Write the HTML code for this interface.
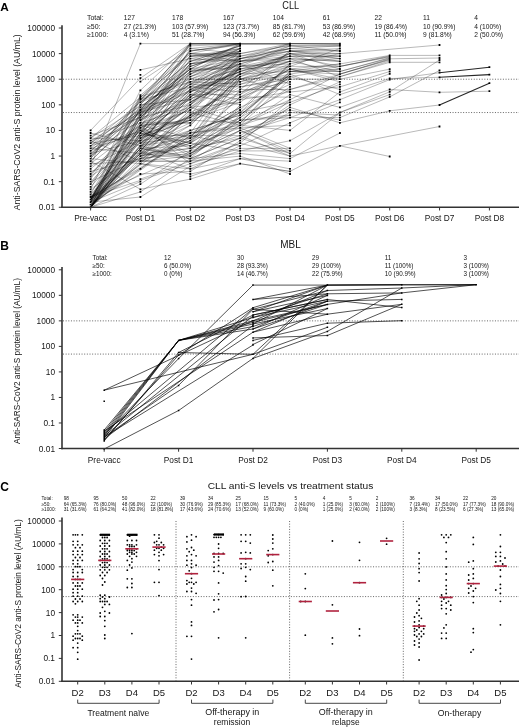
<!DOCTYPE html>
<html><head><meta charset="utf-8"><style>
html,body{margin:0;padding:0;background:#fff;width:520px;height:728px;overflow:hidden}
svg{display:block;font-family:"Liberation Sans", sans-serif;will-change:transform}
</style></head><body>
<svg width="520" height="728" viewBox="0 0 520 728">
<rect width="520" height="728" fill="#fff"/>
<text x="0.20" y="10.50" font-size="11.8" text-anchor="start" font-weight="bold" fill="#000">A</text>
<text x="290.75" y="8.50" font-size="10.2" text-anchor="middle" font-weight="normal" fill="#151515" textLength="16.9" lengthAdjust="spacingAndGlyphs">CLL</text>
<text x="86.90" y="20.20" font-size="7" text-anchor="start" font-weight="normal" fill="#151515">Total:</text>
<text x="86.90" y="28.60" font-size="7" text-anchor="start" font-weight="normal" fill="#151515">≥50:</text>
<text x="86.90" y="37.00" font-size="7" text-anchor="start" font-weight="normal" fill="#151515">≥1000:</text>
<text transform="translate(123.80,20.20) scale(0.95,1)" font-size="7" text-anchor="start" font-weight="normal" fill="#151515">127</text>
<text transform="translate(123.80,28.60) scale(0.95,1)" font-size="7" text-anchor="start" font-weight="normal" fill="#151515">27 (21.3%)</text>
<text transform="translate(123.80,37.00) scale(0.95,1)" font-size="7" text-anchor="start" font-weight="normal" fill="#151515">4 (3.1%)</text>
<text transform="translate(172.10,20.20) scale(0.95,1)" font-size="7" text-anchor="start" font-weight="normal" fill="#151515">178</text>
<text transform="translate(172.10,28.60) scale(0.95,1)" font-size="7" text-anchor="start" font-weight="normal" fill="#151515">103 (57.9%)</text>
<text transform="translate(172.10,37.00) scale(0.95,1)" font-size="7" text-anchor="start" font-weight="normal" fill="#151515">51 (28.7%)</text>
<text transform="translate(223.00,20.20) scale(0.95,1)" font-size="7" text-anchor="start" font-weight="normal" fill="#151515">167</text>
<text transform="translate(223.00,28.60) scale(0.95,1)" font-size="7" text-anchor="start" font-weight="normal" fill="#151515">123 (73.7%)</text>
<text transform="translate(223.00,37.00) scale(0.95,1)" font-size="7" text-anchor="start" font-weight="normal" fill="#151515">94 (56.3%)</text>
<text transform="translate(272.80,20.20) scale(0.95,1)" font-size="7" text-anchor="start" font-weight="normal" fill="#151515">104</text>
<text transform="translate(272.80,28.60) scale(0.95,1)" font-size="7" text-anchor="start" font-weight="normal" fill="#151515">85 (81.7%)</text>
<text transform="translate(272.80,37.00) scale(0.95,1)" font-size="7" text-anchor="start" font-weight="normal" fill="#151515">62 (59.6%)</text>
<text transform="translate(322.70,20.20) scale(0.95,1)" font-size="7" text-anchor="start" font-weight="normal" fill="#151515">61</text>
<text transform="translate(322.70,28.60) scale(0.95,1)" font-size="7" text-anchor="start" font-weight="normal" fill="#151515">53 (86.9%)</text>
<text transform="translate(322.70,37.00) scale(0.95,1)" font-size="7" text-anchor="start" font-weight="normal" fill="#151515">42 (68.9%)</text>
<text transform="translate(374.60,20.20) scale(0.95,1)" font-size="7" text-anchor="start" font-weight="normal" fill="#151515">22</text>
<text transform="translate(374.60,28.60) scale(0.95,1)" font-size="7" text-anchor="start" font-weight="normal" fill="#151515">19 (86.4%)</text>
<text transform="translate(374.60,37.00) scale(0.95,1)" font-size="7" text-anchor="start" font-weight="normal" fill="#151515">11 (50.0%)</text>
<text transform="translate(423.00,20.20) scale(0.95,1)" font-size="7" text-anchor="start" font-weight="normal" fill="#151515">11</text>
<text transform="translate(423.00,28.60) scale(0.95,1)" font-size="7" text-anchor="start" font-weight="normal" fill="#151515">10 (90.9%)</text>
<text transform="translate(423.00,37.00) scale(0.95,1)" font-size="7" text-anchor="start" font-weight="normal" fill="#151515">9 (81.8%)</text>
<text transform="translate(474.30,20.20) scale(0.95,1)" font-size="7" text-anchor="start" font-weight="normal" fill="#151515">4</text>
<text transform="translate(474.30,28.60) scale(0.95,1)" font-size="7" text-anchor="start" font-weight="normal" fill="#151515">4 (100%)</text>
<text transform="translate(474.30,37.00) scale(0.95,1)" font-size="7" text-anchor="start" font-weight="normal" fill="#151515">2 (50.0%)</text>
<text transform="translate(17.1,122.3) rotate(-90)" x="0" y="0" font-size="8.4" text-anchor="middle" fill="#151515" textLength="176" lengthAdjust="spacingAndGlyphs" dominant-baseline="central">Anti-SARS-CoV2 anti-S protein level (AU/mL)</text>
<line x1="63" y1="79.22" x2="519" y2="79.22" stroke="#555" stroke-width="0.9" stroke-dasharray="1 1.65"/>
<line x1="63" y1="112.54" x2="519" y2="112.54" stroke="#555" stroke-width="0.9" stroke-dasharray="1 1.65"/>
<path d="M140.4,69.9 L190.3,58.7" fill="none" stroke="#000" stroke-opacity="0.5" stroke-width="0.55"/>
<path d="M140.4,145.8 L190.3,138.1 L240.2,117.6 L290.0,89.5 L339.9,76.7 L389.7,61.0" fill="none" stroke="#000" stroke-opacity="0.5" stroke-width="0.55"/>
<path d="M140.4,122.8 L190.3,63.9 L240.2,58.7" fill="none" stroke="#000" stroke-opacity="0.5" stroke-width="0.55"/>
<path d="M140.4,143.2 L190.3,115.1 L240.2,94.6 L290.0,69.0 L339.9,81.8" fill="none" stroke="#000" stroke-opacity="0.5" stroke-width="0.55"/>
<path d="M90.6,202.1 L140.4,174.0 L190.3,171.4 L240.2,140.7 L290.0,107.4 L339.9,122.8 L389.7,110.8 L439.5,105.0" fill="none" stroke="#000" stroke-opacity="0.5" stroke-width="0.55"/>
<path d="M90.6,199.6 L140.4,115.1 L190.3,56.2 L240.2,53.6" fill="none" stroke="#000" stroke-opacity="0.5" stroke-width="0.55"/>
<path d="M90.6,207.3 L140.4,191.9 L190.3,158.6 L240.2,115.1 L290.0,74.1 L339.9,66.4 L389.7,55.9" fill="none" stroke="#000" stroke-opacity="0.5" stroke-width="0.55"/>
<path d="M90.6,199.6 L140.4,117.6 L190.3,66.4 L240.2,51.0" fill="none" stroke="#000" stroke-opacity="0.5" stroke-width="0.55"/>
<path d="M90.6,207.3 L140.4,138.1 L190.3,94.6 L240.2,71.5 L290.0,58.7 L339.9,61.3" fill="none" stroke="#000" stroke-opacity="0.5" stroke-width="0.55"/>
<path d="M90.6,130.4 L140.4,78.2 L190.3,43.6 L240.2,43.6" fill="none" stroke="#000" stroke-opacity="0.5" stroke-width="0.55"/>
<path d="M90.6,186.8 L140.4,133.0 L190.3,89.5 L240.2,66.4 L290.0,61.3 L339.9,71.5" fill="none" stroke="#000" stroke-opacity="0.5" stroke-width="0.55"/>
<path d="M140.4,156.1 L190.3,125.3 L240.2,76.7 L290.0,53.6 L339.9,58.7" fill="none" stroke="#000" stroke-opacity="0.5" stroke-width="0.55"/>
<path d="M90.6,199.6 L140.4,125.3 L190.3,120.2" fill="none" stroke="#000" stroke-opacity="0.5" stroke-width="0.55"/>
<path d="M90.6,204.7 L190.3,97.1 L240.2,58.7 L290.0,51.0 L339.9,51.0" fill="none" stroke="#000" stroke-opacity="0.5" stroke-width="0.55"/>
<path d="M90.6,207.3 L140.4,145.8 L190.3,122.8 L240.2,66.4 L290.0,63.9 L339.9,53.6" fill="none" stroke="#000" stroke-opacity="0.5" stroke-width="0.55"/>
<path d="M90.6,202.1 L140.4,133.0 L190.3,66.4 L240.2,51.0" fill="none" stroke="#000" stroke-opacity="0.5" stroke-width="0.55"/>
<path d="M140.4,130.4 L190.3,156.1 L240.2,120.2 L290.0,115.1" fill="none" stroke="#000" stroke-opacity="0.5" stroke-width="0.55"/>
<path d="M190.3,97.1 L240.2,51.0" fill="none" stroke="#000" stroke-opacity="0.5" stroke-width="0.55"/>
<path d="M140.4,145.8 L190.3,102.3 L240.2,61.3 L290.0,58.7" fill="none" stroke="#000" stroke-opacity="0.5" stroke-width="0.55"/>
<path d="M90.6,199.6 L190.3,130.4 L240.2,115.1 L290.0,74.1 L339.9,94.6 L389.7,78.5 L439.5,77.3" fill="none" stroke="#000" stroke-opacity="0.5" stroke-width="0.55"/>
<path d="M90.6,197.0 L190.3,163.7 L240.2,143.2 L290.0,99.7 L339.9,74.1 L389.7,58.8 L439.5,58.0" fill="none" stroke="#000" stroke-opacity="0.5" stroke-width="0.55"/>
<path d="M90.6,140.7 L140.4,122.8" fill="none" stroke="#000" stroke-opacity="0.5" stroke-width="0.55"/>
<path d="M90.6,171.4 L140.4,158.6 L190.3,140.7 L240.2,110.0 L290.0,63.9" fill="none" stroke="#000" stroke-opacity="0.5" stroke-width="0.55"/>
<path d="M140.4,102.3 L190.3,66.4 L240.2,48.5" fill="none" stroke="#000" stroke-opacity="0.5" stroke-width="0.55"/>
<path d="M190.3,150.9 L240.2,135.6 L290.0,107.4" fill="none" stroke="#000" stroke-opacity="0.5" stroke-width="0.55"/>
<path d="M90.6,138.1 L190.3,56.2 L240.2,48.5" fill="none" stroke="#000" stroke-opacity="0.5" stroke-width="0.55"/>
<path d="M90.6,199.6 L190.3,112.5 L240.2,89.5 L290.0,51.0 L339.9,53.6" fill="none" stroke="#000" stroke-opacity="0.5" stroke-width="0.55"/>
<path d="M140.4,158.6 L190.3,150.9 L240.2,107.4" fill="none" stroke="#000" stroke-opacity="0.5" stroke-width="0.55"/>
<path d="M90.6,150.9 L190.3,71.5 L240.2,61.3" fill="none" stroke="#000" stroke-opacity="0.5" stroke-width="0.55"/>
<path d="M90.6,207.3 L140.4,153.5 L190.3,110.0" fill="none" stroke="#000" stroke-opacity="0.5" stroke-width="0.55"/>
<path d="M90.6,202.1 L140.4,181.7" fill="none" stroke="#000" stroke-opacity="0.5" stroke-width="0.55"/>
<path d="M90.6,150.9 L140.4,130.4 L190.3,143.2 L240.2,79.2 L290.0,69.0 L339.9,79.2 L389.7,69.2" fill="none" stroke="#000" stroke-opacity="0.5" stroke-width="0.55"/>
<path d="M90.6,168.9 L140.4,127.9 L190.3,102.3 L240.2,76.7" fill="none" stroke="#000" stroke-opacity="0.5" stroke-width="0.55"/>
<path d="M90.6,197.0 L140.4,125.3 L190.3,138.1 L240.2,71.5" fill="none" stroke="#000" stroke-opacity="0.5" stroke-width="0.55"/>
<path d="M90.6,207.3 L140.4,138.1 L190.3,120.2 L240.2,102.3" fill="none" stroke="#000" stroke-opacity="0.5" stroke-width="0.55"/>
<path d="M90.6,150.9 L140.4,107.4" fill="none" stroke="#000" stroke-opacity="0.5" stroke-width="0.55"/>
<path d="M90.6,207.3 L140.4,163.7 L190.3,168.9 L240.2,158.6 L290.0,168.9" fill="none" stroke="#000" stroke-opacity="0.5" stroke-width="0.55"/>
<path d="M140.4,161.2 L190.3,140.7 L240.2,79.2 L290.0,92.0 L339.9,86.9 L389.7,71.5" fill="none" stroke="#000" stroke-opacity="0.5" stroke-width="0.55"/>
<path d="M90.6,184.2 L140.4,130.4 L190.3,153.5 L240.2,130.4 L290.0,115.1" fill="none" stroke="#000" stroke-opacity="0.5" stroke-width="0.55"/>
<path d="M140.4,140.7 L190.3,107.4 L240.2,69.0 L290.0,58.7 L339.9,61.3" fill="none" stroke="#000" stroke-opacity="0.5" stroke-width="0.55"/>
<path d="M90.6,202.1 L140.4,96.6 L190.3,81.8" fill="none" stroke="#000" stroke-opacity="0.5" stroke-width="0.55"/>
<path d="M190.3,145.8 L240.2,127.9 L290.0,125.3" fill="none" stroke="#000" stroke-opacity="0.5" stroke-width="0.55"/>
<path d="M90.6,197.0 L190.3,138.1 L240.2,76.7 L290.0,61.3" fill="none" stroke="#000" stroke-opacity="0.5" stroke-width="0.55"/>
<path d="M90.6,199.6 L140.4,153.5 L190.3,148.4 L240.2,117.6 L290.0,71.5 L339.9,69.0" fill="none" stroke="#000" stroke-opacity="0.5" stroke-width="0.55"/>
<path d="M90.6,158.6 L190.3,43.6 L240.2,43.6" fill="none" stroke="#000" stroke-opacity="0.5" stroke-width="0.55"/>
<path d="M90.6,191.9 L140.4,135.6 L190.3,97.1 L240.2,69.0" fill="none" stroke="#000" stroke-opacity="0.5" stroke-width="0.55"/>
<path d="M90.6,145.8 L190.3,86.9 L240.2,92.0 L290.0,81.8" fill="none" stroke="#000" stroke-opacity="0.5" stroke-width="0.55"/>
<path d="M190.3,86.9 L240.2,81.8 L290.0,63.9" fill="none" stroke="#000" stroke-opacity="0.5" stroke-width="0.55"/>
<path d="M90.6,207.3 L140.4,140.7 L190.3,92.0 L240.2,69.0 L290.0,66.4" fill="none" stroke="#000" stroke-opacity="0.5" stroke-width="0.55"/>
<path d="M90.6,166.3 L140.4,43.6 L190.3,43.6" fill="none" stroke="#000" stroke-opacity="0.5" stroke-width="0.55"/>
<path d="M90.6,166.3 L140.4,140.7" fill="none" stroke="#000" stroke-opacity="0.5" stroke-width="0.55"/>
<path d="M90.6,184.2 L140.4,115.1 L190.3,63.9 L240.2,53.6 L290.0,45.6 L339.9,51.0" fill="none" stroke="#000" stroke-opacity="0.5" stroke-width="0.55"/>
<path d="M90.6,207.3 L140.4,184.2 L190.3,150.9 L240.2,89.5 L290.0,89.5 L339.9,74.1 L389.7,59.4" fill="none" stroke="#000" stroke-opacity="0.5" stroke-width="0.55"/>
<path d="M140.4,130.4 L190.3,110.0 L240.2,63.9 L290.0,48.5 L339.9,45.9" fill="none" stroke="#000" stroke-opacity="0.5" stroke-width="0.55"/>
<path d="M190.3,104.8 L240.2,74.1" fill="none" stroke="#000" stroke-opacity="0.5" stroke-width="0.55"/>
<path d="M90.6,197.0 L190.3,153.5 L240.2,130.4 L290.0,150.9" fill="none" stroke="#000" stroke-opacity="0.5" stroke-width="0.55"/>
<path d="M90.6,207.3 L140.4,158.6 L190.3,133.0 L240.2,125.3 L290.0,102.3" fill="none" stroke="#000" stroke-opacity="0.5" stroke-width="0.55"/>
<path d="M90.6,156.1 L190.3,63.9 L240.2,56.2" fill="none" stroke="#000" stroke-opacity="0.5" stroke-width="0.55"/>
<path d="M190.3,112.5 L240.2,125.3 L290.0,79.2 L339.9,79.2" fill="none" stroke="#000" stroke-opacity="0.5" stroke-width="0.55"/>
<path d="M140.4,120.2 L190.3,89.5 L240.2,71.5 L290.0,53.6 L339.9,61.3" fill="none" stroke="#000" stroke-opacity="0.5" stroke-width="0.55"/>
<path d="M90.6,161.2 L190.3,61.3 L240.2,45.9" fill="none" stroke="#000" stroke-opacity="0.5" stroke-width="0.55"/>
<path d="M90.6,145.8 L140.4,104.8 L190.3,44.5 L240.2,43.6 L290.0,43.6 L339.9,44.6" fill="none" stroke="#000" stroke-opacity="0.5" stroke-width="0.55"/>
<path d="M140.4,148.4 L190.3,71.5 L240.2,48.5" fill="none" stroke="#000" stroke-opacity="0.5" stroke-width="0.55"/>
<path d="M90.6,202.1 L140.4,117.6 L190.3,81.8 L240.2,69.0" fill="none" stroke="#000" stroke-opacity="0.5" stroke-width="0.55"/>
<path d="M90.6,181.7 L190.3,79.2" fill="none" stroke="#000" stroke-opacity="0.5" stroke-width="0.55"/>
<path d="M190.3,163.7 L240.2,148.4 L290.0,148.4" fill="none" stroke="#000" stroke-opacity="0.5" stroke-width="0.55"/>
<path d="M140.4,102.3 L190.3,61.3 L240.2,45.8" fill="none" stroke="#000" stroke-opacity="0.5" stroke-width="0.55"/>
<path d="M140.4,122.8 L190.3,122.8 L240.2,74.1" fill="none" stroke="#000" stroke-opacity="0.5" stroke-width="0.55"/>
<path d="M90.6,207.3 L190.3,115.1 L240.2,53.6" fill="none" stroke="#000" stroke-opacity="0.5" stroke-width="0.55"/>
<path d="M140.4,104.8 L190.3,99.7" fill="none" stroke="#000" stroke-opacity="0.5" stroke-width="0.55"/>
<path d="M90.6,199.6 L140.4,95.2 L190.3,53.6 L240.2,43.6" fill="none" stroke="#000" stroke-opacity="0.5" stroke-width="0.55"/>
<path d="M140.4,138.1 L190.3,120.2 L240.2,79.2 L290.0,66.4 L339.9,66.4 L389.7,56.5" fill="none" stroke="#000" stroke-opacity="0.5" stroke-width="0.55"/>
<path d="M90.6,207.3 L140.4,148.4 L190.3,158.6 L240.2,138.1 L290.0,153.5" fill="none" stroke="#000" stroke-opacity="0.5" stroke-width="0.55"/>
<path d="M90.6,138.1 L190.3,74.1 L240.2,48.5" fill="none" stroke="#000" stroke-opacity="0.5" stroke-width="0.55"/>
<path d="M90.6,158.6 L140.4,97.5 L190.3,45.9 L240.2,43.6" fill="none" stroke="#000" stroke-opacity="0.5" stroke-width="0.55"/>
<path d="M90.6,158.6 L140.4,163.7 L190.3,174.0 L240.2,163.7 L290.0,171.4 L339.9,145.8 L389.7,156.5" fill="none" stroke="#000" stroke-opacity="0.5" stroke-width="0.55"/>
<path d="M90.6,145.8 L190.3,117.6 L240.2,81.8 L290.0,71.5 L339.9,74.1 L389.7,60.0" fill="none" stroke="#000" stroke-opacity="0.5" stroke-width="0.55"/>
<path d="M140.4,99.7 L190.3,53.6 L240.2,56.2 L290.0,44.8" fill="none" stroke="#000" stroke-opacity="0.5" stroke-width="0.55"/>
<path d="M140.4,156.1 L190.3,148.4 L240.2,122.8 L290.0,99.7" fill="none" stroke="#000" stroke-opacity="0.5" stroke-width="0.55"/>
<path d="M140.4,99.7 L190.3,86.9 L240.2,56.2" fill="none" stroke="#000" stroke-opacity="0.5" stroke-width="0.55"/>
<path d="M190.3,102.3 L240.2,74.1 L290.0,71.5 L339.9,71.5 L389.7,57.7" fill="none" stroke="#000" stroke-opacity="0.5" stroke-width="0.55"/>
<path d="M90.6,143.2 L140.4,135.6 L190.3,117.6 L240.2,99.7 L290.0,92.0" fill="none" stroke="#000" stroke-opacity="0.5" stroke-width="0.55"/>
<path d="M90.6,207.3 L140.4,135.6 L190.3,120.2 L240.2,122.8 L290.0,74.1" fill="none" stroke="#000" stroke-opacity="0.5" stroke-width="0.55"/>
<path d="M190.3,153.5 L240.2,117.6" fill="none" stroke="#000" stroke-opacity="0.5" stroke-width="0.55"/>
<path d="M90.6,202.1 L140.4,148.4 L190.3,125.3 L240.2,76.7" fill="none" stroke="#000" stroke-opacity="0.5" stroke-width="0.55"/>
<path d="M90.6,189.3 L140.4,90.3 L190.3,43.6" fill="none" stroke="#000" stroke-opacity="0.5" stroke-width="0.55"/>
<path d="M140.4,150.9 L190.3,97.1 L240.2,69.0" fill="none" stroke="#000" stroke-opacity="0.5" stroke-width="0.55"/>
<path d="M90.6,207.3 L140.4,98.3" fill="none" stroke="#000" stroke-opacity="0.5" stroke-width="0.55"/>
<path d="M90.6,207.3 L140.4,145.8 L190.3,104.8 L240.2,56.2" fill="none" stroke="#000" stroke-opacity="0.5" stroke-width="0.55"/>
<path d="M140.4,110.0 L190.3,51.0 L240.2,45.1" fill="none" stroke="#000" stroke-opacity="0.5" stroke-width="0.55"/>
<path d="M90.6,143.2 L190.3,76.7 L240.2,61.3 L290.0,45.9 L339.9,45.8" fill="none" stroke="#000" stroke-opacity="0.5" stroke-width="0.55"/>
<path d="M190.3,176.5 L240.2,158.6 L290.0,161.2" fill="none" stroke="#000" stroke-opacity="0.5" stroke-width="0.55"/>
<path d="M140.4,143.2 L190.3,107.4 L240.2,122.8 L290.0,71.5 L339.9,63.9 L389.7,55.4 L439.5,55.4" fill="none" stroke="#000" stroke-opacity="0.5" stroke-width="0.55"/>
<path d="M190.3,99.7 L240.2,71.5 L290.0,58.7 L339.9,76.7 L389.7,62.3 L439.5,62.3" fill="none" stroke="#000" stroke-opacity="0.5" stroke-width="0.55"/>
<path d="M90.6,181.7 L140.4,158.6 L190.3,110.0" fill="none" stroke="#000" stroke-opacity="0.5" stroke-width="0.55"/>
<path d="M190.3,156.1 L240.2,125.3 L290.0,130.4 L339.9,92.0 L389.7,73.8" fill="none" stroke="#000" stroke-opacity="0.5" stroke-width="0.55"/>
<path d="M140.4,156.1 L190.3,140.7 L240.2,97.1 L290.0,97.1" fill="none" stroke="#000" stroke-opacity="0.5" stroke-width="0.55"/>
<path d="M90.6,197.0 L140.4,168.9 L190.3,135.6 L240.2,135.6 L290.0,156.1 L339.9,145.8" fill="none" stroke="#000" stroke-opacity="0.5" stroke-width="0.55"/>
<path d="M140.4,150.9 L190.3,138.1 L240.2,112.5 L290.0,76.7" fill="none" stroke="#000" stroke-opacity="0.5" stroke-width="0.55"/>
<path d="M190.3,76.7 L240.2,56.2 L290.0,48.5" fill="none" stroke="#000" stroke-opacity="0.5" stroke-width="0.55"/>
<path d="M90.6,189.3 L190.3,117.6 L240.2,79.2 L290.0,61.3 L339.9,58.7" fill="none" stroke="#000" stroke-opacity="0.5" stroke-width="0.55"/>
<path d="M190.3,58.7 L240.2,61.3 L290.0,56.2 L339.9,56.2" fill="none" stroke="#000" stroke-opacity="0.5" stroke-width="0.55"/>
<path d="M140.4,81.6 L190.3,48.5 L240.2,53.6" fill="none" stroke="#000" stroke-opacity="0.5" stroke-width="0.55"/>
<path d="M140.4,179.1 L190.3,161.2 L240.2,130.4 L290.0,153.5 L339.9,112.5 L389.7,91.8 L439.5,60.0" fill="none" stroke="#000" stroke-opacity="0.5" stroke-width="0.55"/>
<path d="M90.6,202.1 L140.4,163.7 L190.3,115.1 L240.2,84.3 L290.0,66.4 L339.9,48.5" fill="none" stroke="#000" stroke-opacity="0.5" stroke-width="0.55"/>
<path d="M90.6,204.7 L190.3,133.0 L240.2,127.9 L290.0,94.6 L339.9,107.4 L389.7,89.5 L439.5,92.3" fill="none" stroke="#000" stroke-opacity="0.5" stroke-width="0.55"/>
<path d="M140.4,107.4 L190.3,69.0 L240.2,43.6 L290.0,43.7 L339.9,43.6" fill="none" stroke="#000" stroke-opacity="0.5" stroke-width="0.55"/>
<path d="M140.4,143.2 L190.3,135.6 L240.2,145.8" fill="none" stroke="#000" stroke-opacity="0.5" stroke-width="0.55"/>
<path d="M90.6,143.2 L190.3,61.3 L240.2,53.6 L290.0,43.6" fill="none" stroke="#000" stroke-opacity="0.5" stroke-width="0.55"/>
<path d="M90.6,148.4 L140.4,133.0 L190.3,145.8" fill="none" stroke="#000" stroke-opacity="0.5" stroke-width="0.55"/>
<path d="M90.6,207.3 L140.4,135.6 L190.3,135.6 L240.2,107.4 L290.0,84.3" fill="none" stroke="#000" stroke-opacity="0.5" stroke-width="0.55"/>
<path d="M90.6,207.3 L140.4,145.8 L240.2,115.1 L290.0,76.7 L339.9,69.0" fill="none" stroke="#000" stroke-opacity="0.5" stroke-width="0.55"/>
<path d="M140.4,161.2 L190.3,156.1 L240.2,104.8" fill="none" stroke="#000" stroke-opacity="0.5" stroke-width="0.55"/>
<path d="M90.6,163.7 L140.4,161.2 L190.3,161.2 L240.2,156.1 L290.0,174.0" fill="none" stroke="#000" stroke-opacity="0.5" stroke-width="0.55"/>
<path d="M140.4,125.3 L190.3,122.8 L240.2,92.0 L290.0,76.7" fill="none" stroke="#000" stroke-opacity="0.5" stroke-width="0.55"/>
<path d="M190.3,143.2 L240.2,112.5 L290.0,102.3 L339.9,84.3" fill="none" stroke="#000" stroke-opacity="0.5" stroke-width="0.55"/>
<path d="M140.4,150.9 L190.3,94.6 L240.2,94.6 L290.0,51.0 L339.9,58.7" fill="none" stroke="#000" stroke-opacity="0.5" stroke-width="0.55"/>
<path d="M90.6,197.0 L190.3,74.1 L240.2,51.0" fill="none" stroke="#000" stroke-opacity="0.5" stroke-width="0.55"/>
<path d="M140.4,120.2 L190.3,84.3 L240.2,86.9 L290.0,79.2" fill="none" stroke="#000" stroke-opacity="0.5" stroke-width="0.55"/>
<path d="M140.4,99.0 L190.3,79.2 L240.2,63.9" fill="none" stroke="#000" stroke-opacity="0.5" stroke-width="0.55"/>
<path d="M240.2,127.9 L290.0,148.4" fill="none" stroke="#000" stroke-opacity="0.5" stroke-width="0.55"/>
<path d="M90.6,199.6 L140.4,115.1 L190.3,84.3 L240.2,61.3 L290.0,51.0 L339.9,56.2" fill="none" stroke="#000" stroke-opacity="0.5" stroke-width="0.55"/>
<path d="M90.6,207.3 L140.4,127.9 L190.3,94.6" fill="none" stroke="#000" stroke-opacity="0.5" stroke-width="0.55"/>
<path d="M140.4,135.6 L240.2,97.1 L290.0,69.0 L339.9,71.5 L389.7,58.2" fill="none" stroke="#000" stroke-opacity="0.5" stroke-width="0.55"/>
<path d="M190.3,84.3 L240.2,69.0 L290.0,56.2 L339.9,66.4 L389.7,57.1" fill="none" stroke="#000" stroke-opacity="0.5" stroke-width="0.55"/>
<path d="M90.6,202.1 L140.4,197.0 L190.3,166.3 L240.2,150.9 L290.0,140.7 L339.9,112.5 L389.7,94.6" fill="none" stroke="#000" stroke-opacity="0.5" stroke-width="0.55"/>
<path d="M90.6,174.0 L190.3,76.7 L240.2,53.6" fill="none" stroke="#000" stroke-opacity="0.5" stroke-width="0.55"/>
<path d="M90.6,204.7 L190.3,135.6 L240.2,107.4" fill="none" stroke="#000" stroke-opacity="0.5" stroke-width="0.55"/>
<path d="M90.6,207.3 L190.3,58.7 L240.2,48.5" fill="none" stroke="#000" stroke-opacity="0.5" stroke-width="0.55"/>
<path d="M90.6,176.5 L140.4,143.2 L190.3,107.4 L240.2,76.7" fill="none" stroke="#000" stroke-opacity="0.5" stroke-width="0.55"/>
<path d="M90.6,133.0 L190.3,158.6 L240.2,138.1 L290.0,104.8 L339.9,81.8" fill="none" stroke="#000" stroke-opacity="0.5" stroke-width="0.55"/>
<path d="M90.6,199.6 L190.3,43.6 L240.2,43.6" fill="none" stroke="#000" stroke-opacity="0.5" stroke-width="0.55"/>
<path d="M190.3,161.2 L240.2,143.2 L290.0,156.1" fill="none" stroke="#000" stroke-opacity="0.5" stroke-width="0.55"/>
<path d="M90.6,207.3 L190.3,81.8 L240.2,63.9" fill="none" stroke="#000" stroke-opacity="0.5" stroke-width="0.55"/>
<path d="M90.6,207.3 L140.4,107.4 L190.3,69.0 L240.2,44.6 L290.0,43.6 L339.9,43.6" fill="none" stroke="#000" stroke-opacity="0.5" stroke-width="0.55"/>
<path d="M90.6,174.0 L140.4,122.8 L190.3,107.4 L240.2,102.3 L290.0,66.4" fill="none" stroke="#000" stroke-opacity="0.5" stroke-width="0.55"/>
<path d="M190.3,102.3 L240.2,74.1 L290.0,53.6 L339.9,69.0" fill="none" stroke="#000" stroke-opacity="0.5" stroke-width="0.55"/>
<path d="M90.6,199.6 L190.3,79.2 L240.2,79.2 L290.0,76.7" fill="none" stroke="#000" stroke-opacity="0.5" stroke-width="0.55"/>
<path d="M90.6,179.1 L140.4,110.0 L240.2,71.5" fill="none" stroke="#000" stroke-opacity="0.5" stroke-width="0.55"/>
<path d="M190.3,148.4 L240.2,138.1 L290.0,112.5 L339.9,115.1" fill="none" stroke="#000" stroke-opacity="0.5" stroke-width="0.55"/>
<path d="M190.3,92.0 L240.2,71.5" fill="none" stroke="#000" stroke-opacity="0.5" stroke-width="0.55"/>
<path d="M90.6,207.3 L140.4,127.9 L190.3,148.4 L240.2,125.3 L290.0,110.0 L339.9,120.2" fill="none" stroke="#000" stroke-opacity="0.5" stroke-width="0.55"/>
<path d="M140.4,138.1 L190.3,104.8 L240.2,58.7" fill="none" stroke="#000" stroke-opacity="0.5" stroke-width="0.55"/>
<path d="M140.4,158.6 L190.3,153.5 L240.2,120.2 L290.0,117.6 L339.9,117.6 L389.7,96.9 L439.5,70.4" fill="none" stroke="#000" stroke-opacity="0.5" stroke-width="0.55"/>
<path d="M140.4,117.6 L190.3,63.9 L240.2,45.9" fill="none" stroke="#000" stroke-opacity="0.5" stroke-width="0.55"/>
<path d="M90.6,207.3 L140.4,148.4 L190.3,156.1" fill="none" stroke="#000" stroke-opacity="0.5" stroke-width="0.55"/>
<path d="M90.6,202.1 L140.4,125.3 L190.3,99.7" fill="none" stroke="#000" stroke-opacity="0.5" stroke-width="0.55"/>
<path d="M90.6,153.5 L140.4,120.2 L190.3,56.2 L240.2,56.2" fill="none" stroke="#000" stroke-opacity="0.5" stroke-width="0.55"/>
<path d="M190.3,53.6 L240.2,61.3 L290.0,53.6 L339.9,53.6" fill="none" stroke="#000" stroke-opacity="0.5" stroke-width="0.55"/>
<path d="M140.4,150.9 L190.3,168.9 L240.2,145.8 L290.0,122.8 L339.9,102.3" fill="none" stroke="#000" stroke-opacity="0.5" stroke-width="0.55"/>
<path d="M90.6,156.1 L140.4,125.3 L190.3,163.7" fill="none" stroke="#000" stroke-opacity="0.5" stroke-width="0.55"/>
<path d="M90.6,161.2 L140.4,189.3 L190.3,179.1 L240.2,163.7 L290.0,171.4" fill="none" stroke="#000" stroke-opacity="0.5" stroke-width="0.55"/>
<path d="M90.6,138.1 L140.4,140.7 L190.3,92.0 L240.2,74.1 L290.0,56.2 L339.9,56.2" fill="none" stroke="#000" stroke-opacity="0.5" stroke-width="0.55"/>
<path d="M90.6,207.3 L140.4,112.5 L190.3,84.3 L240.2,51.0" fill="none" stroke="#000" stroke-opacity="0.5" stroke-width="0.55"/>
<path d="M90.6,153.5 L140.4,140.7 L190.3,133.0 L240.2,112.5 L290.0,63.9" fill="none" stroke="#000" stroke-opacity="0.5" stroke-width="0.55"/>
<path d="M90.6,202.1 L140.4,153.5 L190.3,130.4" fill="none" stroke="#000" stroke-opacity="0.5" stroke-width="0.55"/>
<path d="M140.4,161.2 L190.3,161.2" fill="none" stroke="#000" stroke-opacity="0.5" stroke-width="0.55"/>
<path d="M90.6,153.5 L190.3,71.5 L240.2,66.4 L290.0,45.9 L339.9,45.9" fill="none" stroke="#000" stroke-opacity="0.5" stroke-width="0.55"/>
<path d="M90.6,148.4 L190.3,69.0 L240.2,58.7" fill="none" stroke="#000" stroke-opacity="0.5" stroke-width="0.55"/>
<path d="M90.6,148.4 L140.4,153.5 L190.3,133.0 L240.2,66.4" fill="none" stroke="#000" stroke-opacity="0.5" stroke-width="0.55"/>
<path d="M140.4,115.1 L190.3,74.1 L240.2,58.7 L290.0,48.5 L339.9,51.0" fill="none" stroke="#000" stroke-opacity="0.5" stroke-width="0.55"/>
<path d="M90.6,140.7 L140.4,112.5 L240.2,84.3 L290.0,74.1" fill="none" stroke="#000" stroke-opacity="0.5" stroke-width="0.55"/>
<path d="M90.6,202.1 L140.4,117.6 L190.3,71.5 L240.2,63.9 L290.0,51.0 L339.9,48.5" fill="none" stroke="#000" stroke-opacity="0.5" stroke-width="0.55"/>
<path d="M90.6,199.6 L140.4,148.4 L190.3,145.8 L240.2,120.2 L290.0,86.9" fill="none" stroke="#000" stroke-opacity="0.5" stroke-width="0.55"/>
<path d="M90.6,156.1 L190.3,43.6 L240.2,43.6" fill="none" stroke="#000" stroke-opacity="0.5" stroke-width="0.55"/>
<path d="M90.6,204.7 L190.3,48.5 L240.2,43.6 L290.0,44.3" fill="none" stroke="#000" stroke-opacity="0.5" stroke-width="0.55"/>
<path d="M90.6,135.6 L140.4,117.6 L190.3,104.8 L240.2,66.4" fill="none" stroke="#000" stroke-opacity="0.5" stroke-width="0.55"/>
<path d="M240.2,133.0 L290.0,117.6 L339.9,99.7 L389.7,79.6 L439.5,72.7" fill="none" stroke="#000" stroke-opacity="0.5" stroke-width="0.55"/>
<path d="M140.4,120.2 L190.3,99.7 L240.2,66.4 L290.0,56.2" fill="none" stroke="#000" stroke-opacity="0.5" stroke-width="0.55"/>
<path d="M90.6,199.6 L140.4,112.5 L190.3,69.0 L240.2,69.0" fill="none" stroke="#000" stroke-opacity="0.5" stroke-width="0.55"/>
<path d="M90.6,202.1 L190.3,94.6 L240.2,104.8" fill="none" stroke="#000" stroke-opacity="0.5" stroke-width="0.55"/>
<path d="M90.6,194.5 L140.4,104.8 L190.3,51.0 L240.2,43.6" fill="none" stroke="#000" stroke-opacity="0.5" stroke-width="0.55"/>
<path d="M90.6,161.2 L140.4,112.5 L190.3,92.0 L240.2,58.7 L290.0,48.5" fill="none" stroke="#000" stroke-opacity="0.5" stroke-width="0.55"/>
<path d="M140.4,102.3 L190.3,81.8 L240.2,84.3" fill="none" stroke="#000" stroke-opacity="0.5" stroke-width="0.55"/>
<path d="M90.6,176.5 L140.4,110.0 L190.3,51.0 L240.2,43.9" fill="none" stroke="#000" stroke-opacity="0.5" stroke-width="0.55"/>
<path d="M90.6,199.6 L140.4,133.0 L190.3,143.2 L240.2,110.0" fill="none" stroke="#000" stroke-opacity="0.5" stroke-width="0.55"/>
<path d="M90.6,140.7 L140.4,161.2 L190.3,143.2 L240.2,97.1 L290.0,79.2" fill="none" stroke="#000" stroke-opacity="0.5" stroke-width="0.55"/>
<path d="M140.4,127.9 L190.3,110.0 L240.2,74.1 L290.0,61.3" fill="none" stroke="#000" stroke-opacity="0.5" stroke-width="0.55"/>
<path d="M190.3,56.2 L240.2,51.0" fill="none" stroke="#000" stroke-opacity="0.5" stroke-width="0.55"/>
<path d="M140.4,133.0 L190.3,89.5 L240.2,63.9" fill="none" stroke="#000" stroke-opacity="0.5" stroke-width="0.55"/>
<path d="M190.3,79.2 L240.2,58.7 L290.0,43.6 L339.9,43.9" fill="none" stroke="#000" stroke-opacity="0.5" stroke-width="0.55"/>
<path d="M90.6,207.3 L140.4,150.9 L190.3,115.1 L240.2,86.9 L290.0,76.7 L339.9,89.5" fill="none" stroke="#000" stroke-opacity="0.5" stroke-width="0.55"/>
<path d="M90.6,207.3 L140.4,153.5 L190.3,158.6 L240.2,153.5 L290.0,158.6 L339.9,133.0" fill="none" stroke="#000" stroke-opacity="0.5" stroke-width="0.55"/>
<path d="M90.6,197.0 L140.4,156.1 L190.3,143.2 L240.2,150.9 L290.0,150.9" fill="none" stroke="#000" stroke-opacity="0.5" stroke-width="0.55"/>
<path d="M190.3,53.6 L240.2,53.6" fill="none" stroke="#000" stroke-opacity="0.5" stroke-width="0.55"/>
<path d="M90.6,194.5 L190.3,89.5 L240.2,99.7 L290.0,69.0 L339.9,63.9" fill="none" stroke="#000" stroke-opacity="0.5" stroke-width="0.55"/>
<path d="M90.6,163.7 L190.3,86.9 L240.2,63.9 L290.0,84.3" fill="none" stroke="#000" stroke-opacity="0.5" stroke-width="0.55"/>
<path d="M339.9,53.6 L439.5,45.0" fill="none" stroke="#000" stroke-opacity="0.5" stroke-width="0.55"/>
<path d="M339.9,145.8 L439.5,126.5" fill="none" stroke="#000" stroke-opacity="0.5" stroke-width="0.55"/>
<line x1="439.5" y1="72.7" x2="489.4" y2="67.2" stroke="#000" stroke-opacity="0.85" stroke-width="1.1"/>
<line x1="439.5" y1="77.3" x2="489.4" y2="74.6" stroke="#000" stroke-opacity="0.85" stroke-width="1.1"/>
<line x1="439.5" y1="105" x2="489.4" y2="83.2" stroke="#000" stroke-opacity="0.85" stroke-width="1.1"/>
<line x1="439.5" y1="92.3" x2="489.4" y2="91.2" stroke="#000" stroke-opacity="0.5" stroke-width="0.55"/>
<path fill="#000" d="M139.5,69.0h1.8v1.8h-1.8zM189.4,57.8h1.8v1.8h-1.8zM139.5,144.9h1.8v1.8h-1.8zM189.4,137.2h1.8v1.8h-1.8zM239.2,116.7h1.8v1.8h-1.8zM289.1,88.6h1.8v1.8h-1.8zM339.0,75.8h1.8v1.8h-1.8zM388.8,60.1h1.8v1.8h-1.8zM139.5,121.9h1.8v1.8h-1.8zM189.4,63.0h1.8v1.8h-1.8zM239.2,57.8h1.8v1.8h-1.8zM139.5,142.3h1.8v1.8h-1.8zM189.4,114.2h1.8v1.8h-1.8zM239.2,93.7h1.8v1.8h-1.8zM289.1,68.1h1.8v1.8h-1.8zM339.0,80.9h1.8v1.8h-1.8zM89.7,201.2h1.8v1.8h-1.8zM139.5,173.1h1.8v1.8h-1.8zM189.4,170.5h1.8v1.8h-1.8zM239.2,139.8h1.8v1.8h-1.8zM289.1,106.5h1.8v1.8h-1.8zM339.0,121.9h1.8v1.8h-1.8zM388.8,109.9h1.8v1.8h-1.8zM438.6,104.1h1.8v1.8h-1.8zM89.7,198.7h1.8v1.8h-1.8zM139.5,114.2h1.8v1.8h-1.8zM189.4,55.3h1.8v1.8h-1.8zM239.2,52.7h1.8v1.8h-1.8zM89.7,206.4h1.8v1.8h-1.8zM139.5,191.0h1.8v1.8h-1.8zM189.4,157.7h1.8v1.8h-1.8zM239.2,114.2h1.8v1.8h-1.8zM289.1,73.2h1.8v1.8h-1.8zM339.0,65.5h1.8v1.8h-1.8zM388.8,55.0h1.8v1.8h-1.8zM89.7,198.7h1.8v1.8h-1.8zM139.5,116.7h1.8v1.8h-1.8zM189.4,65.5h1.8v1.8h-1.8zM239.2,50.1h1.8v1.8h-1.8zM89.7,206.4h1.8v1.8h-1.8zM139.5,137.2h1.8v1.8h-1.8zM189.4,93.7h1.8v1.8h-1.8zM239.2,70.6h1.8v1.8h-1.8zM289.1,57.8h1.8v1.8h-1.8zM339.0,60.4h1.8v1.8h-1.8zM89.7,129.5h1.8v1.8h-1.8zM139.5,77.3h1.8v1.8h-1.8zM189.4,42.7h1.8v1.8h-1.8zM239.2,42.7h1.8v1.8h-1.8zM89.7,185.9h1.8v1.8h-1.8zM139.5,132.1h1.8v1.8h-1.8zM189.4,88.6h1.8v1.8h-1.8zM239.2,65.5h1.8v1.8h-1.8zM289.1,60.4h1.8v1.8h-1.8zM339.0,70.6h1.8v1.8h-1.8zM139.5,155.2h1.8v1.8h-1.8zM189.4,124.4h1.8v1.8h-1.8zM239.2,75.8h1.8v1.8h-1.8zM289.1,52.7h1.8v1.8h-1.8zM339.0,57.8h1.8v1.8h-1.8zM89.7,198.7h1.8v1.8h-1.8zM139.5,124.4h1.8v1.8h-1.8zM189.4,119.3h1.8v1.8h-1.8zM89.7,203.8h1.8v1.8h-1.8zM189.4,96.2h1.8v1.8h-1.8zM239.2,57.8h1.8v1.8h-1.8zM289.1,50.1h1.8v1.8h-1.8zM339.0,50.1h1.8v1.8h-1.8zM89.7,206.4h1.8v1.8h-1.8zM139.5,144.9h1.8v1.8h-1.8zM189.4,121.9h1.8v1.8h-1.8zM239.2,65.5h1.8v1.8h-1.8zM289.1,63.0h1.8v1.8h-1.8zM339.0,52.7h1.8v1.8h-1.8zM89.7,201.2h1.8v1.8h-1.8zM139.5,132.1h1.8v1.8h-1.8zM189.4,65.5h1.8v1.8h-1.8zM239.2,50.1h1.8v1.8h-1.8zM139.5,129.5h1.8v1.8h-1.8zM189.4,155.2h1.8v1.8h-1.8zM239.2,119.3h1.8v1.8h-1.8zM289.1,114.2h1.8v1.8h-1.8zM189.4,96.2h1.8v1.8h-1.8zM239.2,50.1h1.8v1.8h-1.8zM139.5,144.9h1.8v1.8h-1.8zM189.4,101.4h1.8v1.8h-1.8zM239.2,60.4h1.8v1.8h-1.8zM289.1,57.8h1.8v1.8h-1.8zM89.7,198.7h1.8v1.8h-1.8zM189.4,129.5h1.8v1.8h-1.8zM239.2,114.2h1.8v1.8h-1.8zM289.1,73.2h1.8v1.8h-1.8zM339.0,93.7h1.8v1.8h-1.8zM388.8,77.6h1.8v1.8h-1.8zM438.6,76.4h1.8v1.8h-1.8zM89.7,196.1h1.8v1.8h-1.8zM189.4,162.8h1.8v1.8h-1.8zM239.2,142.3h1.8v1.8h-1.8zM289.1,98.8h1.8v1.8h-1.8zM339.0,73.2h1.8v1.8h-1.8zM388.8,57.9h1.8v1.8h-1.8zM438.6,57.1h1.8v1.8h-1.8zM89.7,139.8h1.8v1.8h-1.8zM139.5,121.9h1.8v1.8h-1.8zM89.7,170.5h1.8v1.8h-1.8zM139.5,157.7h1.8v1.8h-1.8zM189.4,139.8h1.8v1.8h-1.8zM239.2,109.1h1.8v1.8h-1.8zM289.1,63.0h1.8v1.8h-1.8zM139.5,101.4h1.8v1.8h-1.8zM189.4,65.5h1.8v1.8h-1.8zM239.2,47.6h1.8v1.8h-1.8zM189.4,150.0h1.8v1.8h-1.8zM239.2,134.7h1.8v1.8h-1.8zM289.1,106.5h1.8v1.8h-1.8zM89.7,137.2h1.8v1.8h-1.8zM189.4,55.3h1.8v1.8h-1.8zM239.2,47.6h1.8v1.8h-1.8zM89.7,198.7h1.8v1.8h-1.8zM189.4,111.6h1.8v1.8h-1.8zM239.2,88.6h1.8v1.8h-1.8zM289.1,50.1h1.8v1.8h-1.8zM339.0,52.7h1.8v1.8h-1.8zM139.5,157.7h1.8v1.8h-1.8zM189.4,150.0h1.8v1.8h-1.8zM239.2,106.5h1.8v1.8h-1.8zM89.7,150.0h1.8v1.8h-1.8zM189.4,70.6h1.8v1.8h-1.8zM239.2,60.4h1.8v1.8h-1.8zM89.7,206.4h1.8v1.8h-1.8zM139.5,152.6h1.8v1.8h-1.8zM189.4,109.1h1.8v1.8h-1.8zM89.7,201.2h1.8v1.8h-1.8zM139.5,180.8h1.8v1.8h-1.8zM89.7,150.0h1.8v1.8h-1.8zM139.5,129.5h1.8v1.8h-1.8zM189.4,142.3h1.8v1.8h-1.8zM239.2,78.3h1.8v1.8h-1.8zM289.1,68.1h1.8v1.8h-1.8zM339.0,78.3h1.8v1.8h-1.8zM388.8,68.3h1.8v1.8h-1.8zM89.7,168.0h1.8v1.8h-1.8zM139.5,127.0h1.8v1.8h-1.8zM189.4,101.4h1.8v1.8h-1.8zM239.2,75.8h1.8v1.8h-1.8zM89.7,196.1h1.8v1.8h-1.8zM139.5,124.4h1.8v1.8h-1.8zM189.4,137.2h1.8v1.8h-1.8zM239.2,70.6h1.8v1.8h-1.8zM89.7,206.4h1.8v1.8h-1.8zM139.5,137.2h1.8v1.8h-1.8zM189.4,119.3h1.8v1.8h-1.8zM239.2,101.4h1.8v1.8h-1.8zM89.7,150.0h1.8v1.8h-1.8zM139.5,106.5h1.8v1.8h-1.8zM89.7,206.4h1.8v1.8h-1.8zM139.5,162.8h1.8v1.8h-1.8zM189.4,168.0h1.8v1.8h-1.8zM239.2,157.7h1.8v1.8h-1.8zM289.1,168.0h1.8v1.8h-1.8zM139.5,160.3h1.8v1.8h-1.8zM189.4,139.8h1.8v1.8h-1.8zM239.2,78.3h1.8v1.8h-1.8zM289.1,91.1h1.8v1.8h-1.8zM339.0,86.0h1.8v1.8h-1.8zM388.8,70.6h1.8v1.8h-1.8zM89.7,183.3h1.8v1.8h-1.8zM139.5,129.5h1.8v1.8h-1.8zM189.4,152.6h1.8v1.8h-1.8zM239.2,129.5h1.8v1.8h-1.8zM289.1,114.2h1.8v1.8h-1.8zM139.5,139.8h1.8v1.8h-1.8zM189.4,106.5h1.8v1.8h-1.8zM239.2,68.1h1.8v1.8h-1.8zM289.1,57.8h1.8v1.8h-1.8zM339.0,60.4h1.8v1.8h-1.8zM89.7,201.2h1.8v1.8h-1.8zM139.5,95.7h1.8v1.8h-1.8zM189.4,80.9h1.8v1.8h-1.8zM189.4,144.9h1.8v1.8h-1.8zM239.2,127.0h1.8v1.8h-1.8zM289.1,124.4h1.8v1.8h-1.8zM89.7,196.1h1.8v1.8h-1.8zM189.4,137.2h1.8v1.8h-1.8zM239.2,75.8h1.8v1.8h-1.8zM289.1,60.4h1.8v1.8h-1.8zM89.7,198.7h1.8v1.8h-1.8zM139.5,152.6h1.8v1.8h-1.8zM189.4,147.5h1.8v1.8h-1.8zM239.2,116.7h1.8v1.8h-1.8zM289.1,70.6h1.8v1.8h-1.8zM339.0,68.1h1.8v1.8h-1.8zM239.2,75.8h1.8v1.8h-1.8zM89.7,157.7h1.8v1.8h-1.8zM189.4,42.7h1.8v1.8h-1.8zM239.2,42.7h1.8v1.8h-1.8zM89.7,191.0h1.8v1.8h-1.8zM139.5,134.7h1.8v1.8h-1.8zM189.4,96.2h1.8v1.8h-1.8zM239.2,68.1h1.8v1.8h-1.8zM89.7,144.9h1.8v1.8h-1.8zM189.4,86.0h1.8v1.8h-1.8zM239.2,91.1h1.8v1.8h-1.8zM289.1,80.9h1.8v1.8h-1.8zM189.4,86.0h1.8v1.8h-1.8zM239.2,80.9h1.8v1.8h-1.8zM289.1,63.0h1.8v1.8h-1.8zM89.7,206.4h1.8v1.8h-1.8zM139.5,139.8h1.8v1.8h-1.8zM189.4,91.1h1.8v1.8h-1.8zM239.2,68.1h1.8v1.8h-1.8zM289.1,65.5h1.8v1.8h-1.8zM89.7,165.4h1.8v1.8h-1.8zM139.5,42.7h1.8v1.8h-1.8zM189.4,42.7h1.8v1.8h-1.8zM89.7,165.4h1.8v1.8h-1.8zM139.5,139.8h1.8v1.8h-1.8zM89.7,183.3h1.8v1.8h-1.8zM139.5,114.2h1.8v1.8h-1.8zM189.4,63.0h1.8v1.8h-1.8zM239.2,52.7h1.8v1.8h-1.8zM289.1,44.7h1.8v1.8h-1.8zM339.0,50.1h1.8v1.8h-1.8zM89.7,206.4h1.8v1.8h-1.8zM139.5,183.3h1.8v1.8h-1.8zM189.4,150.0h1.8v1.8h-1.8zM239.2,88.6h1.8v1.8h-1.8zM289.1,88.6h1.8v1.8h-1.8zM339.0,73.2h1.8v1.8h-1.8zM388.8,58.5h1.8v1.8h-1.8zM189.4,47.6h1.8v1.8h-1.8zM139.5,129.5h1.8v1.8h-1.8zM189.4,109.1h1.8v1.8h-1.8zM239.2,63.0h1.8v1.8h-1.8zM289.1,47.6h1.8v1.8h-1.8zM339.0,45.0h1.8v1.8h-1.8zM189.4,103.9h1.8v1.8h-1.8zM239.2,73.2h1.8v1.8h-1.8zM89.7,196.1h1.8v1.8h-1.8zM189.4,152.6h1.8v1.8h-1.8zM239.2,129.5h1.8v1.8h-1.8zM289.1,150.0h1.8v1.8h-1.8zM89.7,206.4h1.8v1.8h-1.8zM139.5,157.7h1.8v1.8h-1.8zM189.4,132.1h1.8v1.8h-1.8zM239.2,124.4h1.8v1.8h-1.8zM289.1,101.4h1.8v1.8h-1.8zM89.7,155.2h1.8v1.8h-1.8zM189.4,63.0h1.8v1.8h-1.8zM239.2,55.3h1.8v1.8h-1.8zM189.4,111.6h1.8v1.8h-1.8zM239.2,124.4h1.8v1.8h-1.8zM289.1,78.3h1.8v1.8h-1.8zM339.0,78.3h1.8v1.8h-1.8zM139.5,119.3h1.8v1.8h-1.8zM189.4,88.6h1.8v1.8h-1.8zM239.2,70.6h1.8v1.8h-1.8zM289.1,52.7h1.8v1.8h-1.8zM339.0,60.4h1.8v1.8h-1.8zM89.7,160.3h1.8v1.8h-1.8zM189.4,60.4h1.8v1.8h-1.8zM239.2,45.0h1.8v1.8h-1.8zM89.7,144.9h1.8v1.8h-1.8zM139.5,103.9h1.8v1.8h-1.8zM189.4,43.6h1.8v1.8h-1.8zM239.2,42.7h1.8v1.8h-1.8zM289.1,42.7h1.8v1.8h-1.8zM339.0,43.7h1.8v1.8h-1.8zM139.5,147.5h1.8v1.8h-1.8zM189.4,70.6h1.8v1.8h-1.8zM239.2,47.6h1.8v1.8h-1.8zM89.7,201.2h1.8v1.8h-1.8zM139.5,116.7h1.8v1.8h-1.8zM189.4,80.9h1.8v1.8h-1.8zM239.2,68.1h1.8v1.8h-1.8zM89.7,180.8h1.8v1.8h-1.8zM189.4,78.3h1.8v1.8h-1.8zM189.4,162.8h1.8v1.8h-1.8zM239.2,147.5h1.8v1.8h-1.8zM289.1,147.5h1.8v1.8h-1.8zM139.5,101.4h1.8v1.8h-1.8zM189.4,60.4h1.8v1.8h-1.8zM239.2,44.9h1.8v1.8h-1.8zM139.5,121.9h1.8v1.8h-1.8zM189.4,121.9h1.8v1.8h-1.8zM239.2,73.2h1.8v1.8h-1.8zM89.7,206.4h1.8v1.8h-1.8zM189.4,114.2h1.8v1.8h-1.8zM239.2,52.7h1.8v1.8h-1.8zM139.5,103.9h1.8v1.8h-1.8zM189.4,98.8h1.8v1.8h-1.8zM89.7,198.7h1.8v1.8h-1.8zM139.5,94.3h1.8v1.8h-1.8zM189.4,52.7h1.8v1.8h-1.8zM239.2,42.7h1.8v1.8h-1.8zM139.5,137.2h1.8v1.8h-1.8zM189.4,119.3h1.8v1.8h-1.8zM239.2,78.3h1.8v1.8h-1.8zM289.1,65.5h1.8v1.8h-1.8zM339.0,65.5h1.8v1.8h-1.8zM388.8,55.6h1.8v1.8h-1.8zM89.7,206.4h1.8v1.8h-1.8zM139.5,147.5h1.8v1.8h-1.8zM189.4,157.7h1.8v1.8h-1.8zM239.2,137.2h1.8v1.8h-1.8zM289.1,152.6h1.8v1.8h-1.8zM89.7,137.2h1.8v1.8h-1.8zM189.4,73.2h1.8v1.8h-1.8zM239.2,47.6h1.8v1.8h-1.8zM89.7,157.7h1.8v1.8h-1.8zM139.5,96.6h1.8v1.8h-1.8zM189.4,45.0h1.8v1.8h-1.8zM239.2,42.7h1.8v1.8h-1.8zM89.7,157.7h1.8v1.8h-1.8zM139.5,162.8h1.8v1.8h-1.8zM189.4,173.1h1.8v1.8h-1.8zM239.2,162.8h1.8v1.8h-1.8zM289.1,170.5h1.8v1.8h-1.8zM339.0,144.9h1.8v1.8h-1.8zM388.8,155.6h1.8v1.8h-1.8zM89.7,144.9h1.8v1.8h-1.8zM189.4,116.7h1.8v1.8h-1.8zM239.2,80.9h1.8v1.8h-1.8zM289.1,70.6h1.8v1.8h-1.8zM339.0,73.2h1.8v1.8h-1.8zM388.8,59.1h1.8v1.8h-1.8zM139.5,98.8h1.8v1.8h-1.8zM189.4,52.7h1.8v1.8h-1.8zM239.2,55.3h1.8v1.8h-1.8zM289.1,43.9h1.8v1.8h-1.8zM139.5,155.2h1.8v1.8h-1.8zM189.4,147.5h1.8v1.8h-1.8zM239.2,121.9h1.8v1.8h-1.8zM289.1,98.8h1.8v1.8h-1.8zM139.5,98.8h1.8v1.8h-1.8zM189.4,86.0h1.8v1.8h-1.8zM239.2,55.3h1.8v1.8h-1.8zM189.4,101.4h1.8v1.8h-1.8zM239.2,73.2h1.8v1.8h-1.8zM289.1,70.6h1.8v1.8h-1.8zM339.0,70.6h1.8v1.8h-1.8zM388.8,56.8h1.8v1.8h-1.8zM89.7,142.3h1.8v1.8h-1.8zM139.5,134.7h1.8v1.8h-1.8zM189.4,116.7h1.8v1.8h-1.8zM239.2,98.8h1.8v1.8h-1.8zM289.1,91.1h1.8v1.8h-1.8zM89.7,206.4h1.8v1.8h-1.8zM139.5,134.7h1.8v1.8h-1.8zM189.4,119.3h1.8v1.8h-1.8zM239.2,121.9h1.8v1.8h-1.8zM289.1,73.2h1.8v1.8h-1.8zM189.4,152.6h1.8v1.8h-1.8zM239.2,116.7h1.8v1.8h-1.8zM89.7,201.2h1.8v1.8h-1.8zM139.5,147.5h1.8v1.8h-1.8zM189.4,124.4h1.8v1.8h-1.8zM239.2,75.8h1.8v1.8h-1.8zM89.7,188.4h1.8v1.8h-1.8zM139.5,89.4h1.8v1.8h-1.8zM189.4,42.7h1.8v1.8h-1.8zM139.5,150.0h1.8v1.8h-1.8zM189.4,96.2h1.8v1.8h-1.8zM239.2,68.1h1.8v1.8h-1.8zM89.7,206.4h1.8v1.8h-1.8zM139.5,97.4h1.8v1.8h-1.8zM89.7,206.4h1.8v1.8h-1.8zM139.5,144.9h1.8v1.8h-1.8zM189.4,103.9h1.8v1.8h-1.8zM239.2,55.3h1.8v1.8h-1.8zM139.5,109.1h1.8v1.8h-1.8zM189.4,50.1h1.8v1.8h-1.8zM239.2,44.2h1.8v1.8h-1.8zM89.7,142.3h1.8v1.8h-1.8zM189.4,75.8h1.8v1.8h-1.8zM239.2,60.4h1.8v1.8h-1.8zM289.1,45.0h1.8v1.8h-1.8zM339.0,44.9h1.8v1.8h-1.8zM189.4,175.6h1.8v1.8h-1.8zM239.2,157.7h1.8v1.8h-1.8zM289.1,160.3h1.8v1.8h-1.8zM139.5,142.3h1.8v1.8h-1.8zM189.4,106.5h1.8v1.8h-1.8zM239.2,121.9h1.8v1.8h-1.8zM289.1,70.6h1.8v1.8h-1.8zM339.0,63.0h1.8v1.8h-1.8zM388.8,54.5h1.8v1.8h-1.8zM438.6,54.5h1.8v1.8h-1.8zM189.4,98.8h1.8v1.8h-1.8zM239.2,70.6h1.8v1.8h-1.8zM289.1,57.8h1.8v1.8h-1.8zM339.0,75.8h1.8v1.8h-1.8zM388.8,61.4h1.8v1.8h-1.8zM438.6,61.4h1.8v1.8h-1.8zM89.7,180.8h1.8v1.8h-1.8zM139.5,157.7h1.8v1.8h-1.8zM189.4,109.1h1.8v1.8h-1.8zM189.4,155.2h1.8v1.8h-1.8zM239.2,124.4h1.8v1.8h-1.8zM289.1,129.5h1.8v1.8h-1.8zM339.0,91.1h1.8v1.8h-1.8zM388.8,72.9h1.8v1.8h-1.8zM139.5,155.2h1.8v1.8h-1.8zM189.4,139.8h1.8v1.8h-1.8zM239.2,96.2h1.8v1.8h-1.8zM289.1,96.2h1.8v1.8h-1.8zM89.7,196.1h1.8v1.8h-1.8zM139.5,168.0h1.8v1.8h-1.8zM189.4,134.7h1.8v1.8h-1.8zM239.2,134.7h1.8v1.8h-1.8zM289.1,155.2h1.8v1.8h-1.8zM339.0,144.9h1.8v1.8h-1.8zM139.5,150.0h1.8v1.8h-1.8zM189.4,137.2h1.8v1.8h-1.8zM239.2,111.6h1.8v1.8h-1.8zM289.1,75.8h1.8v1.8h-1.8zM189.4,75.8h1.8v1.8h-1.8zM239.2,55.3h1.8v1.8h-1.8zM289.1,47.6h1.8v1.8h-1.8zM89.7,188.4h1.8v1.8h-1.8zM189.4,116.7h1.8v1.8h-1.8zM239.2,78.3h1.8v1.8h-1.8zM289.1,60.4h1.8v1.8h-1.8zM339.0,57.8h1.8v1.8h-1.8zM189.4,57.8h1.8v1.8h-1.8zM239.2,60.4h1.8v1.8h-1.8zM289.1,55.3h1.8v1.8h-1.8zM339.0,55.3h1.8v1.8h-1.8zM139.5,80.7h1.8v1.8h-1.8zM189.4,47.6h1.8v1.8h-1.8zM239.2,52.7h1.8v1.8h-1.8zM139.5,178.2h1.8v1.8h-1.8zM189.4,160.3h1.8v1.8h-1.8zM239.2,129.5h1.8v1.8h-1.8zM289.1,152.6h1.8v1.8h-1.8zM339.0,111.6h1.8v1.8h-1.8zM388.8,90.9h1.8v1.8h-1.8zM438.6,59.1h1.8v1.8h-1.8zM89.7,201.2h1.8v1.8h-1.8zM139.5,162.8h1.8v1.8h-1.8zM189.4,114.2h1.8v1.8h-1.8zM239.2,83.4h1.8v1.8h-1.8zM289.1,65.5h1.8v1.8h-1.8zM339.0,47.6h1.8v1.8h-1.8zM89.7,203.8h1.8v1.8h-1.8zM189.4,132.1h1.8v1.8h-1.8zM239.2,127.0h1.8v1.8h-1.8zM289.1,93.7h1.8v1.8h-1.8zM339.0,106.5h1.8v1.8h-1.8zM388.8,88.6h1.8v1.8h-1.8zM438.6,91.4h1.8v1.8h-1.8zM139.5,106.5h1.8v1.8h-1.8zM189.4,68.1h1.8v1.8h-1.8zM239.2,42.7h1.8v1.8h-1.8zM289.1,42.8h1.8v1.8h-1.8zM339.0,42.7h1.8v1.8h-1.8zM139.5,142.3h1.8v1.8h-1.8zM189.4,134.7h1.8v1.8h-1.8zM239.2,144.9h1.8v1.8h-1.8zM89.7,142.3h1.8v1.8h-1.8zM189.4,60.4h1.8v1.8h-1.8zM239.2,52.7h1.8v1.8h-1.8zM289.1,42.7h1.8v1.8h-1.8zM89.7,147.5h1.8v1.8h-1.8zM139.5,132.1h1.8v1.8h-1.8zM189.4,144.9h1.8v1.8h-1.8zM89.7,206.4h1.8v1.8h-1.8zM139.5,134.7h1.8v1.8h-1.8zM189.4,134.7h1.8v1.8h-1.8zM239.2,106.5h1.8v1.8h-1.8zM289.1,83.4h1.8v1.8h-1.8zM89.7,206.4h1.8v1.8h-1.8zM139.5,144.9h1.8v1.8h-1.8zM239.2,114.2h1.8v1.8h-1.8zM289.1,75.8h1.8v1.8h-1.8zM339.0,68.1h1.8v1.8h-1.8zM139.5,160.3h1.8v1.8h-1.8zM189.4,155.2h1.8v1.8h-1.8zM239.2,103.9h1.8v1.8h-1.8zM89.7,162.8h1.8v1.8h-1.8zM139.5,160.3h1.8v1.8h-1.8zM189.4,160.3h1.8v1.8h-1.8zM239.2,155.2h1.8v1.8h-1.8zM289.1,173.1h1.8v1.8h-1.8zM139.5,124.4h1.8v1.8h-1.8zM189.4,121.9h1.8v1.8h-1.8zM239.2,91.1h1.8v1.8h-1.8zM289.1,75.8h1.8v1.8h-1.8zM189.4,142.3h1.8v1.8h-1.8zM239.2,111.6h1.8v1.8h-1.8zM289.1,101.4h1.8v1.8h-1.8zM339.0,83.4h1.8v1.8h-1.8zM139.5,150.0h1.8v1.8h-1.8zM189.4,93.7h1.8v1.8h-1.8zM239.2,93.7h1.8v1.8h-1.8zM289.1,50.1h1.8v1.8h-1.8zM339.0,57.8h1.8v1.8h-1.8zM89.7,196.1h1.8v1.8h-1.8zM189.4,73.2h1.8v1.8h-1.8zM239.2,50.1h1.8v1.8h-1.8zM139.5,119.3h1.8v1.8h-1.8zM189.4,83.4h1.8v1.8h-1.8zM239.2,86.0h1.8v1.8h-1.8zM289.1,78.3h1.8v1.8h-1.8zM139.5,98.1h1.8v1.8h-1.8zM189.4,78.3h1.8v1.8h-1.8zM239.2,63.0h1.8v1.8h-1.8zM239.2,127.0h1.8v1.8h-1.8zM289.1,147.5h1.8v1.8h-1.8zM89.7,198.7h1.8v1.8h-1.8zM139.5,114.2h1.8v1.8h-1.8zM189.4,83.4h1.8v1.8h-1.8zM239.2,60.4h1.8v1.8h-1.8zM289.1,50.1h1.8v1.8h-1.8zM339.0,55.3h1.8v1.8h-1.8zM89.7,206.4h1.8v1.8h-1.8zM139.5,127.0h1.8v1.8h-1.8zM189.4,93.7h1.8v1.8h-1.8zM139.5,134.7h1.8v1.8h-1.8zM239.2,96.2h1.8v1.8h-1.8zM289.1,68.1h1.8v1.8h-1.8zM339.0,70.6h1.8v1.8h-1.8zM388.8,57.3h1.8v1.8h-1.8zM189.4,83.4h1.8v1.8h-1.8zM239.2,68.1h1.8v1.8h-1.8zM289.1,55.3h1.8v1.8h-1.8zM339.0,65.5h1.8v1.8h-1.8zM388.8,56.2h1.8v1.8h-1.8zM189.4,111.6h1.8v1.8h-1.8zM89.7,201.2h1.8v1.8h-1.8zM139.5,196.1h1.8v1.8h-1.8zM189.4,165.4h1.8v1.8h-1.8zM239.2,150.0h1.8v1.8h-1.8zM289.1,139.8h1.8v1.8h-1.8zM339.0,111.6h1.8v1.8h-1.8zM388.8,93.7h1.8v1.8h-1.8zM89.7,173.1h1.8v1.8h-1.8zM189.4,75.8h1.8v1.8h-1.8zM239.2,52.7h1.8v1.8h-1.8zM89.7,203.8h1.8v1.8h-1.8zM189.4,134.7h1.8v1.8h-1.8zM239.2,106.5h1.8v1.8h-1.8zM89.7,206.4h1.8v1.8h-1.8zM189.4,57.8h1.8v1.8h-1.8zM239.2,47.6h1.8v1.8h-1.8zM89.7,175.6h1.8v1.8h-1.8zM139.5,142.3h1.8v1.8h-1.8zM189.4,106.5h1.8v1.8h-1.8zM239.2,75.8h1.8v1.8h-1.8zM89.7,132.1h1.8v1.8h-1.8zM189.4,157.7h1.8v1.8h-1.8zM239.2,137.2h1.8v1.8h-1.8zM289.1,103.9h1.8v1.8h-1.8zM339.0,80.9h1.8v1.8h-1.8zM89.7,198.7h1.8v1.8h-1.8zM189.4,42.7h1.8v1.8h-1.8zM239.2,42.7h1.8v1.8h-1.8zM189.4,160.3h1.8v1.8h-1.8zM239.2,142.3h1.8v1.8h-1.8zM289.1,155.2h1.8v1.8h-1.8zM89.7,206.4h1.8v1.8h-1.8zM189.4,80.9h1.8v1.8h-1.8zM239.2,63.0h1.8v1.8h-1.8zM89.7,206.4h1.8v1.8h-1.8zM139.5,106.5h1.8v1.8h-1.8zM189.4,68.1h1.8v1.8h-1.8zM239.2,43.7h1.8v1.8h-1.8zM289.1,42.7h1.8v1.8h-1.8zM339.0,42.7h1.8v1.8h-1.8zM89.7,173.1h1.8v1.8h-1.8zM139.5,121.9h1.8v1.8h-1.8zM189.4,106.5h1.8v1.8h-1.8zM239.2,101.4h1.8v1.8h-1.8zM289.1,65.5h1.8v1.8h-1.8zM189.4,101.4h1.8v1.8h-1.8zM239.2,73.2h1.8v1.8h-1.8zM289.1,52.7h1.8v1.8h-1.8zM339.0,68.1h1.8v1.8h-1.8zM89.7,198.7h1.8v1.8h-1.8zM189.4,78.3h1.8v1.8h-1.8zM239.2,78.3h1.8v1.8h-1.8zM289.1,75.8h1.8v1.8h-1.8zM89.7,178.2h1.8v1.8h-1.8zM139.5,109.1h1.8v1.8h-1.8zM239.2,70.6h1.8v1.8h-1.8zM189.4,147.5h1.8v1.8h-1.8zM239.2,137.2h1.8v1.8h-1.8zM289.1,111.6h1.8v1.8h-1.8zM339.0,114.2h1.8v1.8h-1.8zM189.4,91.1h1.8v1.8h-1.8zM239.2,70.6h1.8v1.8h-1.8zM89.7,206.4h1.8v1.8h-1.8zM139.5,127.0h1.8v1.8h-1.8zM189.4,147.5h1.8v1.8h-1.8zM239.2,124.4h1.8v1.8h-1.8zM289.1,109.1h1.8v1.8h-1.8zM339.0,119.3h1.8v1.8h-1.8zM139.5,74.0h1.8v1.8h-1.8zM139.5,137.2h1.8v1.8h-1.8zM189.4,103.9h1.8v1.8h-1.8zM239.2,57.8h1.8v1.8h-1.8zM139.5,157.7h1.8v1.8h-1.8zM189.4,152.6h1.8v1.8h-1.8zM239.2,119.3h1.8v1.8h-1.8zM289.1,116.7h1.8v1.8h-1.8zM339.0,116.7h1.8v1.8h-1.8zM388.8,96.0h1.8v1.8h-1.8zM438.6,69.5h1.8v1.8h-1.8zM139.5,116.7h1.8v1.8h-1.8zM189.4,63.0h1.8v1.8h-1.8zM239.2,45.0h1.8v1.8h-1.8zM89.7,206.4h1.8v1.8h-1.8zM139.5,147.5h1.8v1.8h-1.8zM189.4,155.2h1.8v1.8h-1.8zM89.7,201.2h1.8v1.8h-1.8zM139.5,124.4h1.8v1.8h-1.8zM189.4,98.8h1.8v1.8h-1.8zM89.7,152.6h1.8v1.8h-1.8zM139.5,119.3h1.8v1.8h-1.8zM189.4,55.3h1.8v1.8h-1.8zM239.2,55.3h1.8v1.8h-1.8zM189.4,52.7h1.8v1.8h-1.8zM239.2,60.4h1.8v1.8h-1.8zM289.1,52.7h1.8v1.8h-1.8zM339.0,52.7h1.8v1.8h-1.8zM139.5,150.0h1.8v1.8h-1.8zM189.4,168.0h1.8v1.8h-1.8zM239.2,144.9h1.8v1.8h-1.8zM289.1,121.9h1.8v1.8h-1.8zM339.0,101.4h1.8v1.8h-1.8zM89.7,155.2h1.8v1.8h-1.8zM139.5,124.4h1.8v1.8h-1.8zM189.4,162.8h1.8v1.8h-1.8zM89.7,160.3h1.8v1.8h-1.8zM139.5,188.4h1.8v1.8h-1.8zM189.4,178.2h1.8v1.8h-1.8zM239.2,162.8h1.8v1.8h-1.8zM289.1,170.5h1.8v1.8h-1.8zM89.7,137.2h1.8v1.8h-1.8zM139.5,139.8h1.8v1.8h-1.8zM189.4,91.1h1.8v1.8h-1.8zM239.2,73.2h1.8v1.8h-1.8zM289.1,55.3h1.8v1.8h-1.8zM339.0,55.3h1.8v1.8h-1.8zM89.7,206.4h1.8v1.8h-1.8zM139.5,111.6h1.8v1.8h-1.8zM189.4,83.4h1.8v1.8h-1.8zM239.2,50.1h1.8v1.8h-1.8zM89.7,152.6h1.8v1.8h-1.8zM139.5,139.8h1.8v1.8h-1.8zM189.4,132.1h1.8v1.8h-1.8zM239.2,111.6h1.8v1.8h-1.8zM289.1,63.0h1.8v1.8h-1.8zM89.7,201.2h1.8v1.8h-1.8zM139.5,152.6h1.8v1.8h-1.8zM189.4,129.5h1.8v1.8h-1.8zM139.5,160.3h1.8v1.8h-1.8zM189.4,160.3h1.8v1.8h-1.8zM89.7,152.6h1.8v1.8h-1.8zM189.4,70.6h1.8v1.8h-1.8zM239.2,65.5h1.8v1.8h-1.8zM289.1,45.0h1.8v1.8h-1.8zM339.0,45.0h1.8v1.8h-1.8zM89.7,147.5h1.8v1.8h-1.8zM189.4,68.1h1.8v1.8h-1.8zM239.2,57.8h1.8v1.8h-1.8zM89.7,147.5h1.8v1.8h-1.8zM139.5,152.6h1.8v1.8h-1.8zM189.4,132.1h1.8v1.8h-1.8zM239.2,65.5h1.8v1.8h-1.8zM139.5,114.2h1.8v1.8h-1.8zM189.4,73.2h1.8v1.8h-1.8zM239.2,57.8h1.8v1.8h-1.8zM289.1,47.6h1.8v1.8h-1.8zM339.0,50.1h1.8v1.8h-1.8zM89.7,139.8h1.8v1.8h-1.8zM139.5,111.6h1.8v1.8h-1.8zM239.2,83.4h1.8v1.8h-1.8zM289.1,73.2h1.8v1.8h-1.8zM89.7,201.2h1.8v1.8h-1.8zM139.5,116.7h1.8v1.8h-1.8zM189.4,70.6h1.8v1.8h-1.8zM239.2,63.0h1.8v1.8h-1.8zM289.1,50.1h1.8v1.8h-1.8zM339.0,47.6h1.8v1.8h-1.8zM89.7,198.7h1.8v1.8h-1.8zM139.5,147.5h1.8v1.8h-1.8zM189.4,144.9h1.8v1.8h-1.8zM239.2,119.3h1.8v1.8h-1.8zM289.1,86.0h1.8v1.8h-1.8zM89.7,155.2h1.8v1.8h-1.8zM189.4,42.7h1.8v1.8h-1.8zM239.2,42.7h1.8v1.8h-1.8zM89.7,203.8h1.8v1.8h-1.8zM189.4,47.6h1.8v1.8h-1.8zM239.2,42.7h1.8v1.8h-1.8zM289.1,43.4h1.8v1.8h-1.8zM89.7,134.7h1.8v1.8h-1.8zM139.5,116.7h1.8v1.8h-1.8zM189.4,103.9h1.8v1.8h-1.8zM239.2,65.5h1.8v1.8h-1.8zM239.2,132.1h1.8v1.8h-1.8zM289.1,116.7h1.8v1.8h-1.8zM339.0,98.8h1.8v1.8h-1.8zM388.8,78.7h1.8v1.8h-1.8zM438.6,71.8h1.8v1.8h-1.8zM139.5,119.3h1.8v1.8h-1.8zM189.4,98.8h1.8v1.8h-1.8zM239.2,65.5h1.8v1.8h-1.8zM289.1,55.3h1.8v1.8h-1.8zM89.7,198.7h1.8v1.8h-1.8zM139.5,111.6h1.8v1.8h-1.8zM189.4,68.1h1.8v1.8h-1.8zM239.2,68.1h1.8v1.8h-1.8zM89.7,201.2h1.8v1.8h-1.8zM189.4,93.7h1.8v1.8h-1.8zM239.2,103.9h1.8v1.8h-1.8zM89.7,193.6h1.8v1.8h-1.8zM139.5,103.9h1.8v1.8h-1.8zM189.4,50.1h1.8v1.8h-1.8zM239.2,42.7h1.8v1.8h-1.8zM89.7,160.3h1.8v1.8h-1.8zM139.5,111.6h1.8v1.8h-1.8zM189.4,91.1h1.8v1.8h-1.8zM239.2,57.8h1.8v1.8h-1.8zM289.1,47.6h1.8v1.8h-1.8zM139.5,101.4h1.8v1.8h-1.8zM189.4,80.9h1.8v1.8h-1.8zM239.2,83.4h1.8v1.8h-1.8zM89.7,175.6h1.8v1.8h-1.8zM139.5,109.1h1.8v1.8h-1.8zM189.4,50.1h1.8v1.8h-1.8zM239.2,43.0h1.8v1.8h-1.8zM89.7,198.7h1.8v1.8h-1.8zM139.5,132.1h1.8v1.8h-1.8zM189.4,142.3h1.8v1.8h-1.8zM239.2,109.1h1.8v1.8h-1.8zM89.7,139.8h1.8v1.8h-1.8zM139.5,160.3h1.8v1.8h-1.8zM189.4,142.3h1.8v1.8h-1.8zM239.2,96.2h1.8v1.8h-1.8zM289.1,78.3h1.8v1.8h-1.8zM139.5,127.0h1.8v1.8h-1.8zM189.4,109.1h1.8v1.8h-1.8zM239.2,73.2h1.8v1.8h-1.8zM289.1,60.4h1.8v1.8h-1.8zM189.4,55.3h1.8v1.8h-1.8zM239.2,50.1h1.8v1.8h-1.8zM139.5,132.1h1.8v1.8h-1.8zM189.4,88.6h1.8v1.8h-1.8zM239.2,63.0h1.8v1.8h-1.8zM189.4,78.3h1.8v1.8h-1.8zM239.2,57.8h1.8v1.8h-1.8zM289.1,42.7h1.8v1.8h-1.8zM339.0,43.0h1.8v1.8h-1.8zM89.7,206.4h1.8v1.8h-1.8zM139.5,150.0h1.8v1.8h-1.8zM189.4,114.2h1.8v1.8h-1.8zM239.2,86.0h1.8v1.8h-1.8zM289.1,75.8h1.8v1.8h-1.8zM339.0,88.6h1.8v1.8h-1.8zM89.7,206.4h1.8v1.8h-1.8zM139.5,152.6h1.8v1.8h-1.8zM189.4,157.7h1.8v1.8h-1.8zM239.2,152.6h1.8v1.8h-1.8zM289.1,157.7h1.8v1.8h-1.8zM339.0,132.1h1.8v1.8h-1.8zM89.7,196.1h1.8v1.8h-1.8zM139.5,155.2h1.8v1.8h-1.8zM189.4,142.3h1.8v1.8h-1.8zM239.2,150.0h1.8v1.8h-1.8zM289.1,150.0h1.8v1.8h-1.8zM189.4,52.7h1.8v1.8h-1.8zM239.2,52.7h1.8v1.8h-1.8zM89.7,193.6h1.8v1.8h-1.8zM189.4,88.6h1.8v1.8h-1.8zM239.2,98.8h1.8v1.8h-1.8zM289.1,68.1h1.8v1.8h-1.8zM339.0,63.0h1.8v1.8h-1.8zM89.7,162.8h1.8v1.8h-1.8zM189.4,86.0h1.8v1.8h-1.8zM239.2,63.0h1.8v1.8h-1.8zM289.1,83.4h1.8v1.8h-1.8zM438.6,44.1h1.8v1.8h-1.8zM438.6,125.6h1.8v1.8h-1.8zM488.5,66.3h1.8v1.8h-1.8zM488.5,73.7h1.8v1.8h-1.8zM488.5,82.3h1.8v1.8h-1.8zM488.5,90.3h1.8v1.8h-1.8z"/>
<line x1="62" y1="25.2" x2="62" y2="208.07" stroke="#333" stroke-width="1.6"/>
<line x1="61.2" y1="207.27" x2="519" y2="207.27" stroke="#333" stroke-width="1.6"/>
<line x1="58.8" y1="28.00" x2="62" y2="28.00" stroke="#333" stroke-width="1"/>
<text x="55.00" y="30.99" font-size="8.3" text-anchor="end" font-weight="normal" fill="#151515">100000</text>
<line x1="58.8" y1="53.61" x2="62" y2="53.61" stroke="#333" stroke-width="1"/>
<text x="55.00" y="56.60" font-size="8.3" text-anchor="end" font-weight="normal" fill="#151515">10000</text>
<line x1="58.8" y1="79.22" x2="62" y2="79.22" stroke="#333" stroke-width="1"/>
<text x="55.00" y="82.21" font-size="8.3" text-anchor="end" font-weight="normal" fill="#151515">1000</text>
<line x1="58.8" y1="104.83" x2="62" y2="104.83" stroke="#333" stroke-width="1"/>
<text x="55.00" y="107.82" font-size="8.3" text-anchor="end" font-weight="normal" fill="#151515">100</text>
<line x1="58.8" y1="130.44" x2="62" y2="130.44" stroke="#333" stroke-width="1"/>
<text x="55.00" y="133.43" font-size="8.3" text-anchor="end" font-weight="normal" fill="#151515">10</text>
<line x1="58.8" y1="156.05" x2="62" y2="156.05" stroke="#333" stroke-width="1"/>
<text x="55.00" y="159.04" font-size="8.3" text-anchor="end" font-weight="normal" fill="#151515">1</text>
<line x1="58.8" y1="181.66" x2="62" y2="181.66" stroke="#333" stroke-width="1"/>
<text x="55.00" y="184.65" font-size="8.3" text-anchor="end" font-weight="normal" fill="#151515">0.1</text>
<line x1="58.8" y1="207.27" x2="62" y2="207.27" stroke="#333" stroke-width="1"/>
<text x="55.00" y="210.26" font-size="8.3" text-anchor="end" font-weight="normal" fill="#151515">0.01</text>
<line x1="90.60" y1="207.27" x2="90.60" y2="210.47" stroke="#333" stroke-width="1"/>
<line x1="140.45" y1="207.27" x2="140.45" y2="210.47" stroke="#333" stroke-width="1"/>
<line x1="190.30" y1="207.27" x2="190.30" y2="210.47" stroke="#333" stroke-width="1"/>
<line x1="240.15" y1="207.27" x2="240.15" y2="210.47" stroke="#333" stroke-width="1"/>
<line x1="290.00" y1="207.27" x2="290.00" y2="210.47" stroke="#333" stroke-width="1"/>
<line x1="339.85" y1="207.27" x2="339.85" y2="210.47" stroke="#333" stroke-width="1"/>
<line x1="389.70" y1="207.27" x2="389.70" y2="210.47" stroke="#333" stroke-width="1"/>
<line x1="439.55" y1="207.27" x2="439.55" y2="210.47" stroke="#333" stroke-width="1"/>
<line x1="489.40" y1="207.27" x2="489.40" y2="210.47" stroke="#333" stroke-width="1"/>
<text x="90.60" y="220.80" font-size="8.3" text-anchor="middle" font-weight="normal" fill="#151515">Pre-vacc</text>
<text x="140.45" y="220.80" font-size="8.3" text-anchor="middle" font-weight="normal" fill="#151515">Post D1</text>
<text x="190.30" y="220.80" font-size="8.3" text-anchor="middle" font-weight="normal" fill="#151515">Post D2</text>
<text x="240.15" y="220.80" font-size="8.3" text-anchor="middle" font-weight="normal" fill="#151515">Post D3</text>
<text x="290.00" y="220.80" font-size="8.3" text-anchor="middle" font-weight="normal" fill="#151515">Post D4</text>
<text x="339.85" y="220.80" font-size="8.3" text-anchor="middle" font-weight="normal" fill="#151515">Post D5</text>
<text x="389.70" y="220.80" font-size="8.3" text-anchor="middle" font-weight="normal" fill="#151515">Post D6</text>
<text x="439.55" y="220.80" font-size="8.3" text-anchor="middle" font-weight="normal" fill="#151515">Post D7</text>
<text x="489.40" y="220.80" font-size="8.3" text-anchor="middle" font-weight="normal" fill="#151515">Post D8</text>
<text x="0.20" y="249.80" font-size="12" text-anchor="start" font-weight="bold" fill="#000">B</text>
<text x="290.45" y="247.90" font-size="10.2" text-anchor="middle" font-weight="normal" fill="#151515" textLength="20.5" lengthAdjust="spacingAndGlyphs">MBL</text>
<text x="92.50" y="259.60" font-size="6.3" text-anchor="start" font-weight="normal" fill="#151515">Total:</text>
<text x="92.50" y="267.80" font-size="6.3" text-anchor="start" font-weight="normal" fill="#151515">≥50:</text>
<text x="92.50" y="276.00" font-size="6.3" text-anchor="start" font-weight="normal" fill="#151515">≥1000:</text>
<text x="163.90" y="259.60" font-size="6.3" text-anchor="start" font-weight="normal" fill="#151515">12</text>
<text x="163.90" y="267.80" font-size="6.3" text-anchor="start" font-weight="normal" fill="#151515">6 (50.0%)</text>
<text x="163.90" y="276.00" font-size="6.3" text-anchor="start" font-weight="normal" fill="#151515">0 (0%)</text>
<text x="237.00" y="259.60" font-size="6.3" text-anchor="start" font-weight="normal" fill="#151515">30</text>
<text x="237.00" y="267.80" font-size="6.3" text-anchor="start" font-weight="normal" fill="#151515">28 (93.3%)</text>
<text x="237.00" y="276.00" font-size="6.3" text-anchor="start" font-weight="normal" fill="#151515">14 (46.7%)</text>
<text x="311.90" y="259.60" font-size="6.3" text-anchor="start" font-weight="normal" fill="#151515">29</text>
<text x="311.90" y="267.80" font-size="6.3" text-anchor="start" font-weight="normal" fill="#151515">29 (100%)</text>
<text x="311.90" y="276.00" font-size="6.3" text-anchor="start" font-weight="normal" fill="#151515">22 (75.9%)</text>
<text x="384.80" y="259.60" font-size="6.3" text-anchor="start" font-weight="normal" fill="#151515">11</text>
<text x="384.80" y="267.80" font-size="6.3" text-anchor="start" font-weight="normal" fill="#151515">11 (100%)</text>
<text x="384.80" y="276.00" font-size="6.3" text-anchor="start" font-weight="normal" fill="#151515">10 (90.9%)</text>
<text x="463.40" y="259.60" font-size="6.3" text-anchor="start" font-weight="normal" fill="#151515">3</text>
<text x="463.40" y="267.80" font-size="6.3" text-anchor="start" font-weight="normal" fill="#151515">3 (100%)</text>
<text x="463.40" y="276.00" font-size="6.3" text-anchor="start" font-weight="normal" fill="#151515">3 (100%)</text>
<text transform="translate(17.4,361.1) rotate(-90)" x="0" y="0" font-size="8.3" text-anchor="middle" fill="#151515" textLength="166" lengthAdjust="spacingAndGlyphs" dominant-baseline="central">Anti-SARS-CoV2 anti-S protein level (AU/mL)</text>
<line x1="63" y1="320.86" x2="519" y2="320.86" stroke="#555" stroke-width="0.9" stroke-dasharray="1 1.65"/>
<line x1="63" y1="354.08" x2="519" y2="354.08" stroke="#555" stroke-width="0.9" stroke-dasharray="1 1.65"/>
<line x1="104.2" y1="430" x2="178.6" y2="340.4" stroke="#000" stroke-opacity="0.85" stroke-width="0.8"/>
<line x1="104.2" y1="432" x2="178.6" y2="340.4" stroke="#000" stroke-opacity="0.85" stroke-width="0.8"/>
<line x1="104.2" y1="434" x2="178.6" y2="340.4" stroke="#000" stroke-opacity="0.85" stroke-width="0.8"/>
<line x1="104.2" y1="436" x2="178.6" y2="340.4" stroke="#000" stroke-opacity="0.85" stroke-width="0.8"/>
<line x1="104.2" y1="438" x2="178.6" y2="340.4" stroke="#000" stroke-opacity="0.85" stroke-width="0.8"/>
<line x1="104.2" y1="441" x2="178.6" y2="352.5" stroke="#000" stroke-opacity="0.85" stroke-width="0.8"/>
<line x1="104.2" y1="440" x2="178.6" y2="355" stroke="#000" stroke-opacity="0.85" stroke-width="0.8"/>
<line x1="104.2" y1="435" x2="178.6" y2="358.6" stroke="#000" stroke-opacity="0.85" stroke-width="0.8"/>
<line x1="104.2" y1="437" x2="178.6" y2="385.4" stroke="#000" stroke-opacity="0.85" stroke-width="0.8"/>
<line x1="104.2" y1="449" x2="178.6" y2="410.5" stroke="#000" stroke-opacity="0.85" stroke-width="0.8"/>
<line x1="104.2" y1="390.2" x2="253.0" y2="320.7" stroke="#000" stroke-opacity="0.85" stroke-width="0.8"/>
<line x1="104.2" y1="390.2" x2="253.0" y2="354.3" stroke="#000" stroke-opacity="0.85" stroke-width="0.8"/>
<line x1="104.2" y1="433" x2="253.0" y2="308.6" stroke="#000" stroke-opacity="0.85" stroke-width="0.8"/>
<line x1="104.2" y1="436" x2="253.0" y2="316" stroke="#000" stroke-opacity="0.85" stroke-width="0.8"/>
<line x1="104.2" y1="439" x2="253.0" y2="325.4" stroke="#000" stroke-opacity="0.85" stroke-width="0.8"/>
<line x1="104.2" y1="431" x2="253.0" y2="332.2" stroke="#000" stroke-opacity="0.85" stroke-width="0.8"/>
<line x1="104.2" y1="437" x2="253.0" y2="345" stroke="#000" stroke-opacity="0.85" stroke-width="0.8"/>
<line x1="178.6" y1="340.4" x2="253.0" y2="320.8" stroke="#000" stroke-opacity="0.85" stroke-width="0.8"/>
<line x1="178.6" y1="340.4" x2="253.0" y2="322.4" stroke="#000" stroke-opacity="0.85" stroke-width="0.8"/>
<line x1="178.6" y1="340.4" x2="253.0" y2="324" stroke="#000" stroke-opacity="0.85" stroke-width="0.8"/>
<line x1="178.6" y1="340.4" x2="253.0" y2="317.5" stroke="#000" stroke-opacity="0.85" stroke-width="0.8"/>
<line x1="178.6" y1="340.4" x2="253.0" y2="326.5" stroke="#000" stroke-opacity="0.85" stroke-width="0.8"/>
<line x1="178.6" y1="352.5" x2="253.0" y2="354.3" stroke="#000" stroke-opacity="0.85" stroke-width="0.8"/>
<line x1="178.6" y1="355" x2="253.0" y2="307.7" stroke="#000" stroke-opacity="0.85" stroke-width="0.8"/>
<line x1="178.6" y1="358.6" x2="253.0" y2="285.1" stroke="#000" stroke-opacity="0.85" stroke-width="0.8"/>
<line x1="178.6" y1="385.4" x2="253.0" y2="309.3" stroke="#000" stroke-opacity="0.85" stroke-width="0.8"/>
<line x1="178.6" y1="410.5" x2="253.0" y2="358.4" stroke="#000" stroke-opacity="0.85" stroke-width="0.8"/>
<line x1="178.6" y1="340.4" x2="253.0" y2="329" stroke="#000" stroke-opacity="0.85" stroke-width="0.8"/>
<line x1="178.6" y1="352.5" x2="253.0" y2="315" stroke="#000" stroke-opacity="0.85" stroke-width="0.8"/>
<line x1="253.0" y1="285.1" x2="327.4" y2="285.1" stroke="#000" stroke-opacity="0.85" stroke-width="0.8"/>
<line x1="253.0" y1="299.5" x2="327.4" y2="285.1" stroke="#000" stroke-opacity="0.85" stroke-width="0.8"/>
<line x1="253.0" y1="299.5" x2="327.4" y2="293.8" stroke="#000" stroke-opacity="0.85" stroke-width="0.8"/>
<line x1="253.0" y1="307.7" x2="327.4" y2="285.1" stroke="#000" stroke-opacity="0.85" stroke-width="0.8"/>
<line x1="253.0" y1="309.3" x2="327.4" y2="290.5" stroke="#000" stroke-opacity="0.85" stroke-width="0.8"/>
<line x1="253.0" y1="311.8" x2="327.4" y2="295.4" stroke="#000" stroke-opacity="0.85" stroke-width="0.8"/>
<line x1="253.0" y1="315" x2="327.4" y2="299.5" stroke="#000" stroke-opacity="0.85" stroke-width="0.8"/>
<line x1="253.0" y1="317.5" x2="327.4" y2="301.2" stroke="#000" stroke-opacity="0.85" stroke-width="0.8"/>
<line x1="253.0" y1="320.8" x2="327.4" y2="304.4" stroke="#000" stroke-opacity="0.85" stroke-width="0.8"/>
<line x1="253.0" y1="322.4" x2="327.4" y2="304.4" stroke="#000" stroke-opacity="0.85" stroke-width="0.8"/>
<line x1="253.0" y1="324" x2="327.4" y2="308.5" stroke="#000" stroke-opacity="0.85" stroke-width="0.8"/>
<line x1="253.0" y1="326.5" x2="327.4" y2="301.2" stroke="#000" stroke-opacity="0.85" stroke-width="0.8"/>
<line x1="253.0" y1="329" x2="327.4" y2="295.4" stroke="#000" stroke-opacity="0.85" stroke-width="0.8"/>
<line x1="253.0" y1="332.2" x2="327.4" y2="314.2" stroke="#000" stroke-opacity="0.85" stroke-width="0.8"/>
<line x1="253.0" y1="337.9" x2="327.4" y2="335.5" stroke="#000" stroke-opacity="0.85" stroke-width="0.8"/>
<line x1="253.0" y1="340.4" x2="327.4" y2="323.2" stroke="#000" stroke-opacity="0.85" stroke-width="0.8"/>
<line x1="253.0" y1="344.5" x2="327.4" y2="308.5" stroke="#000" stroke-opacity="0.85" stroke-width="0.8"/>
<line x1="253.0" y1="354.3" x2="327.4" y2="285.1" stroke="#000" stroke-opacity="0.85" stroke-width="0.8"/>
<line x1="253.0" y1="358.4" x2="327.4" y2="285.1" stroke="#000" stroke-opacity="0.85" stroke-width="0.8"/>
<line x1="253.0" y1="354.3" x2="327.4" y2="327.3" stroke="#000" stroke-opacity="0.85" stroke-width="0.8"/>
<line x1="253.0" y1="358.4" x2="327.4" y2="331.4" stroke="#000" stroke-opacity="0.85" stroke-width="0.8"/>
<line x1="253.0" y1="320.8" x2="327.4" y2="290.5" stroke="#000" stroke-opacity="0.85" stroke-width="0.8"/>
<line x1="253.0" y1="324" x2="327.4" y2="285.1" stroke="#000" stroke-opacity="0.85" stroke-width="0.8"/>
<line x1="253.0" y1="317.5" x2="327.4" y2="293.8" stroke="#000" stroke-opacity="0.85" stroke-width="0.8"/>
<line x1="253.0" y1="311.8" x2="327.4" y2="285.1" stroke="#000" stroke-opacity="0.85" stroke-width="0.8"/>
<line x1="253.0" y1="315" x2="327.4" y2="299.5" stroke="#000" stroke-opacity="0.85" stroke-width="0.8"/>
<line x1="253.0" y1="329" x2="327.4" y2="304.4" stroke="#000" stroke-opacity="0.85" stroke-width="0.8"/>
<line x1="253.0" y1="332.2" x2="327.4" y2="301.2" stroke="#000" stroke-opacity="0.85" stroke-width="0.8"/>
<line x1="253.0" y1="309.3" x2="327.4" y2="314.2" stroke="#000" stroke-opacity="0.85" stroke-width="0.8"/>
<line x1="327.4" y1="285.1" x2="401.8" y2="284.7" stroke="#000" stroke-opacity="0.85" stroke-width="0.8"/>
<line x1="327.4" y1="285.1" x2="401.8" y2="284.7" stroke="#000" stroke-opacity="0.85" stroke-width="0.8"/>
<line x1="327.4" y1="290.5" x2="401.8" y2="288" stroke="#000" stroke-opacity="0.85" stroke-width="0.8"/>
<line x1="327.4" y1="293.8" x2="401.8" y2="292.9" stroke="#000" stroke-opacity="0.85" stroke-width="0.8"/>
<line x1="327.4" y1="331.4" x2="401.8" y2="288" stroke="#000" stroke-opacity="0.85" stroke-width="0.8"/>
<line x1="327.4" y1="301.2" x2="401.8" y2="299.4" stroke="#000" stroke-opacity="0.85" stroke-width="0.8"/>
<line x1="327.4" y1="304.4" x2="401.8" y2="292.9" stroke="#000" stroke-opacity="0.85" stroke-width="0.8"/>
<line x1="327.4" y1="314.2" x2="401.8" y2="304.3" stroke="#000" stroke-opacity="0.85" stroke-width="0.8"/>
<line x1="327.4" y1="323.2" x2="401.8" y2="320.7" stroke="#000" stroke-opacity="0.85" stroke-width="0.8"/>
<line x1="327.4" y1="335.5" x2="401.8" y2="304.3" stroke="#000" stroke-opacity="0.85" stroke-width="0.8"/>
<line x1="327.4" y1="299.5" x2="401.8" y2="307.6" stroke="#000" stroke-opacity="0.85" stroke-width="0.8"/>
<line x1="401.8" y1="284.7" x2="476.2" y2="284.7" stroke="#000" stroke-opacity="0.85" stroke-width="0.8"/>
<line x1="401.8" y1="288" x2="476.2" y2="284.7" stroke="#000" stroke-opacity="0.85" stroke-width="0.8"/>
<line x1="401.8" y1="292.9" x2="476.2" y2="284.7" stroke="#000" stroke-opacity="0.85" stroke-width="0.8"/>
<line x1="327.4" y1="285.1" x2="476.2" y2="284.7" stroke="#000" stroke-opacity="0.85" stroke-width="0.8"/>
<path fill="#000" d="M103.45,389.45h1.5v1.5h-1.5zM103.45,400.55h1.5v1.5h-1.5zM103.45,429.25h1.5v1.5h-1.5zM103.45,430.25h1.5v1.5h-1.5zM103.45,431.25h1.5v1.5h-1.5zM103.45,432.25h1.5v1.5h-1.5zM103.45,433.25h1.5v1.5h-1.5zM103.45,434.25h1.5v1.5h-1.5zM103.45,435.25h1.5v1.5h-1.5zM103.45,436.25h1.5v1.5h-1.5zM103.45,437.25h1.5v1.5h-1.5zM103.45,438.25h1.5v1.5h-1.5zM103.45,439.25h1.5v1.5h-1.5zM103.45,440.25h1.5v1.5h-1.5zM103.45,448.25h1.5v1.5h-1.5zM177.85,339.65h1.5v1.5h-1.5zM177.85,351.75h1.5v1.5h-1.5zM177.85,354.25h1.5v1.5h-1.5zM177.85,357.85h1.5v1.5h-1.5zM177.85,384.65h1.5v1.5h-1.5zM177.85,409.75h1.5v1.5h-1.5zM252.25,284.35h1.5v1.5h-1.5zM252.25,298.75h1.5v1.5h-1.5zM252.25,306.95h1.5v1.5h-1.5zM252.25,307.85h1.5v1.5h-1.5zM252.25,308.55h1.5v1.5h-1.5zM252.25,311.05h1.5v1.5h-1.5zM252.25,314.25h1.5v1.5h-1.5zM252.25,315.25h1.5v1.5h-1.5zM252.25,316.75h1.5v1.5h-1.5zM252.25,319.95h1.5v1.5h-1.5zM252.25,320.05h1.5v1.5h-1.5zM252.25,321.65h1.5v1.5h-1.5zM252.25,323.25h1.5v1.5h-1.5zM252.25,324.65h1.5v1.5h-1.5zM252.25,325.75h1.5v1.5h-1.5zM252.25,328.25h1.5v1.5h-1.5zM252.25,331.45h1.5v1.5h-1.5zM252.25,337.15h1.5v1.5h-1.5zM252.25,339.65h1.5v1.5h-1.5zM252.25,343.75h1.5v1.5h-1.5zM252.25,344.25h1.5v1.5h-1.5zM252.25,353.55h1.5v1.5h-1.5zM252.25,357.65h1.5v1.5h-1.5zM326.65,284.35h1.5v1.5h-1.5zM326.65,289.75h1.5v1.5h-1.5zM326.65,293.05h1.5v1.5h-1.5zM326.65,294.65h1.5v1.5h-1.5zM326.65,298.75h1.5v1.5h-1.5zM326.65,300.45h1.5v1.5h-1.5zM326.65,303.65h1.5v1.5h-1.5zM326.65,307.75h1.5v1.5h-1.5zM326.65,313.45h1.5v1.5h-1.5zM326.65,322.45h1.5v1.5h-1.5zM326.65,326.55h1.5v1.5h-1.5zM326.65,330.65h1.5v1.5h-1.5zM326.65,334.75h1.5v1.5h-1.5zM401.05,283.95h1.5v1.5h-1.5zM401.05,287.25h1.5v1.5h-1.5zM401.05,292.15h1.5v1.5h-1.5zM401.05,298.65h1.5v1.5h-1.5zM401.05,303.55h1.5v1.5h-1.5zM401.05,306.85h1.5v1.5h-1.5zM401.05,319.95h1.5v1.5h-1.5zM475.45,283.95h1.5v1.5h-1.5z"/>
<line x1="62" y1="267" x2="62" y2="449.31" stroke="#333" stroke-width="1.6"/>
<line x1="61.2" y1="448.51" x2="519" y2="448.51" stroke="#333" stroke-width="1.6"/>
<line x1="58.8" y1="269.80" x2="62" y2="269.80" stroke="#333" stroke-width="1"/>
<text x="55.00" y="272.79" font-size="8.3" text-anchor="end" font-weight="normal" fill="#151515">100000</text>
<line x1="58.8" y1="295.33" x2="62" y2="295.33" stroke="#333" stroke-width="1"/>
<text x="55.00" y="298.32" font-size="8.3" text-anchor="end" font-weight="normal" fill="#151515">10000</text>
<line x1="58.8" y1="320.86" x2="62" y2="320.86" stroke="#333" stroke-width="1"/>
<text x="55.00" y="323.85" font-size="8.3" text-anchor="end" font-weight="normal" fill="#151515">1000</text>
<line x1="58.8" y1="346.39" x2="62" y2="346.39" stroke="#333" stroke-width="1"/>
<text x="55.00" y="349.38" font-size="8.3" text-anchor="end" font-weight="normal" fill="#151515">100</text>
<line x1="58.8" y1="371.92" x2="62" y2="371.92" stroke="#333" stroke-width="1"/>
<text x="55.00" y="374.91" font-size="8.3" text-anchor="end" font-weight="normal" fill="#151515">10</text>
<line x1="58.8" y1="397.45" x2="62" y2="397.45" stroke="#333" stroke-width="1"/>
<text x="55.00" y="400.44" font-size="8.3" text-anchor="end" font-weight="normal" fill="#151515">1</text>
<line x1="58.8" y1="422.98" x2="62" y2="422.98" stroke="#333" stroke-width="1"/>
<text x="55.00" y="425.97" font-size="8.3" text-anchor="end" font-weight="normal" fill="#151515">0.1</text>
<line x1="58.8" y1="448.51" x2="62" y2="448.51" stroke="#333" stroke-width="1"/>
<text x="55.00" y="451.50" font-size="8.3" text-anchor="end" font-weight="normal" fill="#151515">0.01</text>
<line x1="104.20" y1="448.51" x2="104.20" y2="451.71" stroke="#333" stroke-width="1"/>
<line x1="178.60" y1="448.51" x2="178.60" y2="451.71" stroke="#333" stroke-width="1"/>
<line x1="253.00" y1="448.51" x2="253.00" y2="451.71" stroke="#333" stroke-width="1"/>
<line x1="327.40" y1="448.51" x2="327.40" y2="451.71" stroke="#333" stroke-width="1"/>
<line x1="401.80" y1="448.51" x2="401.80" y2="451.71" stroke="#333" stroke-width="1"/>
<line x1="476.20" y1="448.51" x2="476.20" y2="451.71" stroke="#333" stroke-width="1"/>
<text x="104.20" y="463.20" font-size="8.3" text-anchor="middle" font-weight="normal" fill="#151515">Pre-vacc</text>
<text x="178.60" y="463.20" font-size="8.3" text-anchor="middle" font-weight="normal" fill="#151515">Post D1</text>
<text x="253.00" y="463.20" font-size="8.3" text-anchor="middle" font-weight="normal" fill="#151515">Post D2</text>
<text x="327.40" y="463.20" font-size="8.3" text-anchor="middle" font-weight="normal" fill="#151515">Post D3</text>
<text x="401.80" y="463.20" font-size="8.3" text-anchor="middle" font-weight="normal" fill="#151515">Post D4</text>
<text x="476.20" y="463.20" font-size="8.3" text-anchor="middle" font-weight="normal" fill="#151515">Post D5</text>
<text x="0.20" y="490.90" font-size="12" text-anchor="start" font-weight="bold" fill="#000">C</text>
<text x="290.50" y="489.30" font-size="9.6" text-anchor="middle" font-weight="normal" fill="#151515" textLength="165.6" lengthAdjust="spacingAndGlyphs">CLL anti-S levels vs treatment status</text>
<text x="41.50" y="500.00" font-size="4.7" text-anchor="start" font-weight="normal" fill="#151515">Total:</text>
<text x="41.50" y="505.60" font-size="4.7" text-anchor="start" font-weight="normal" fill="#151515">≥50:</text>
<text x="41.50" y="511.10" font-size="4.7" text-anchor="start" font-weight="normal" fill="#151515">≥1000:</text>
<text x="63.70" y="500.00" font-size="4.7" text-anchor="start" font-weight="normal" fill="#151515">98</text>
<text x="63.70" y="505.60" font-size="4.7" text-anchor="start" font-weight="normal" fill="#151515">64 (65.3%)</text>
<text x="63.70" y="511.10" font-size="4.7" text-anchor="start" font-weight="normal" fill="#151515">31 (31.6%)</text>
<text x="93.50" y="500.00" font-size="4.7" text-anchor="start" font-weight="normal" fill="#151515">95</text>
<text x="93.50" y="505.60" font-size="4.7" text-anchor="start" font-weight="normal" fill="#151515">76 (80.0%)</text>
<text x="93.50" y="511.10" font-size="4.7" text-anchor="start" font-weight="normal" fill="#151515">61 (64.2%)</text>
<text x="122.10" y="500.00" font-size="4.7" text-anchor="start" font-weight="normal" fill="#151515">50</text>
<text x="122.10" y="505.60" font-size="4.7" text-anchor="start" font-weight="normal" fill="#151515">48 (96.0%)</text>
<text x="122.10" y="511.10" font-size="4.7" text-anchor="start" font-weight="normal" fill="#151515">41 (82.0%)</text>
<text x="150.40" y="500.00" font-size="4.7" text-anchor="start" font-weight="normal" fill="#151515">22</text>
<text x="150.40" y="505.60" font-size="4.7" text-anchor="start" font-weight="normal" fill="#151515">22 (100%)</text>
<text x="150.40" y="511.10" font-size="4.7" text-anchor="start" font-weight="normal" fill="#151515">18 (81.8%)</text>
<text x="180.00" y="500.00" font-size="4.7" text-anchor="start" font-weight="normal" fill="#151515">39</text>
<text x="180.00" y="505.60" font-size="4.7" text-anchor="start" font-weight="normal" fill="#151515">30 (76.9%)</text>
<text x="180.00" y="511.10" font-size="4.7" text-anchor="start" font-weight="normal" fill="#151515">17 (43.6%)</text>
<text x="208.00" y="500.00" font-size="4.7" text-anchor="start" font-weight="normal" fill="#151515">34</text>
<text x="208.00" y="505.60" font-size="4.7" text-anchor="start" font-weight="normal" fill="#151515">29 (85.3%)</text>
<text x="208.00" y="511.10" font-size="4.7" text-anchor="start" font-weight="normal" fill="#151515">24 (70.6%)</text>
<text x="235.60" y="500.00" font-size="4.7" text-anchor="start" font-weight="normal" fill="#151515">25</text>
<text x="235.60" y="505.60" font-size="4.7" text-anchor="start" font-weight="normal" fill="#151515">17 (68.0%)</text>
<text x="235.60" y="511.10" font-size="4.7" text-anchor="start" font-weight="normal" fill="#151515">13 (52.0%)</text>
<text x="263.50" y="500.00" font-size="4.7" text-anchor="start" font-weight="normal" fill="#151515">15</text>
<text x="263.50" y="505.60" font-size="4.7" text-anchor="start" font-weight="normal" fill="#151515">11 (73.3%)</text>
<text x="263.50" y="511.10" font-size="4.7" text-anchor="start" font-weight="normal" fill="#151515">9 (60.0%)</text>
<text x="294.60" y="500.00" font-size="4.7" text-anchor="start" font-weight="normal" fill="#151515">5</text>
<text x="294.60" y="505.60" font-size="4.7" text-anchor="start" font-weight="normal" fill="#151515">2 (40.0%)</text>
<text x="294.60" y="511.10" font-size="4.7" text-anchor="start" font-weight="normal" fill="#151515">0 (0%)</text>
<text x="322.70" y="500.00" font-size="4.7" text-anchor="start" font-weight="normal" fill="#151515">4</text>
<text x="322.70" y="505.60" font-size="4.7" text-anchor="start" font-weight="normal" fill="#151515">1 (25.0%)</text>
<text x="322.70" y="511.10" font-size="4.7" text-anchor="start" font-weight="normal" fill="#151515">1 (25.0%)</text>
<text x="349.20" y="500.00" font-size="4.7" text-anchor="start" font-weight="normal" fill="#151515">5</text>
<text x="349.20" y="505.60" font-size="4.7" text-anchor="start" font-weight="normal" fill="#151515">3 (60.0%)</text>
<text x="349.20" y="511.10" font-size="4.7" text-anchor="start" font-weight="normal" fill="#151515">2 (40.0%)</text>
<text x="375.80" y="500.00" font-size="4.7" text-anchor="start" font-weight="normal" fill="#151515">2</text>
<text x="375.80" y="505.60" font-size="4.7" text-anchor="start" font-weight="normal" fill="#151515">2 (100%)</text>
<text x="375.80" y="511.10" font-size="4.7" text-anchor="start" font-weight="normal" fill="#151515">2 (100%)</text>
<text x="409.50" y="500.00" font-size="4.7" text-anchor="start" font-weight="normal" fill="#151515">36</text>
<text x="409.50" y="505.60" font-size="4.7" text-anchor="start" font-weight="normal" fill="#151515">7 (19.4%)</text>
<text x="409.50" y="511.10" font-size="4.7" text-anchor="start" font-weight="normal" fill="#151515">3 (8.3%)</text>
<text x="435.00" y="500.00" font-size="4.7" text-anchor="start" font-weight="normal" fill="#151515">34</text>
<text x="435.00" y="505.60" font-size="4.7" text-anchor="start" font-weight="normal" fill="#151515">17 (50.0%)</text>
<text x="435.00" y="511.10" font-size="4.7" text-anchor="start" font-weight="normal" fill="#151515">8 (23.5%)</text>
<text x="463.00" y="500.00" font-size="4.7" text-anchor="start" font-weight="normal" fill="#151515">22</text>
<text x="463.00" y="505.60" font-size="4.7" text-anchor="start" font-weight="normal" fill="#151515">17 (77.3%)</text>
<text x="463.00" y="511.10" font-size="4.7" text-anchor="start" font-weight="normal" fill="#151515">6 (27.3%)</text>
<text x="491.20" y="500.00" font-size="4.7" text-anchor="start" font-weight="normal" fill="#151515">20</text>
<text x="491.20" y="505.60" font-size="4.7" text-anchor="start" font-weight="normal" fill="#151515">18 (90.0%)</text>
<text x="491.20" y="511.10" font-size="4.7" text-anchor="start" font-weight="normal" fill="#151515">13 (65.0%)</text>
<text transform="translate(17.7,603.5) rotate(-90)" x="0" y="0" font-size="8.4" text-anchor="middle" fill="#151515" textLength="168.5" lengthAdjust="spacingAndGlyphs" dominant-baseline="central">Anti-SARS-CoV2 anti-S protein level (AU/mL)</text>
<line x1="63" y1="566.80" x2="519" y2="566.80" stroke="#555" stroke-width="0.9" stroke-dasharray="1 1.65"/>
<line x1="63" y1="596.59" x2="519" y2="596.59" stroke="#555" stroke-width="0.9" stroke-dasharray="1 1.65"/>
<line x1="176" y1="521" x2="176" y2="680.5" stroke="#555" stroke-width="0.9" stroke-dasharray="1 1.65"/>
<line x1="289.6" y1="521" x2="289.6" y2="680.5" stroke="#555" stroke-width="0.9" stroke-dasharray="1 1.65"/>
<line x1="403.3" y1="521" x2="403.3" y2="680.5" stroke="#555" stroke-width="0.9" stroke-dasharray="1 1.65"/>
<rect x="100" y="533.6999999999999" width="10" height="2.2" fill="#000"/>
<rect x="127.1" y="533.6999999999999" width="10.400000000000006" height="2.2" fill="#000"/>
<rect x="214" y="533.4" width="10" height="2.2" fill="#000"/>
<g fill="#000"><circle cx="77.7" cy="534.8" r="0.9"/><circle cx="73.1" cy="534.8" r="0.9"/><circle cx="82.3" cy="534.8" r="0.9"/><circle cx="75.4" cy="534.8" r="0.9"/><circle cx="77.7" cy="541.3" r="0.9"/><circle cx="73.1" cy="541.3" r="0.9"/><circle cx="77.7" cy="544.8" r="0.9"/><circle cx="73.1" cy="544.8" r="0.9"/><circle cx="82.3" cy="544.8" r="0.9"/><circle cx="75.4" cy="547.7" r="0.9"/><circle cx="80.0" cy="547.7" r="0.9"/><circle cx="77.7" cy="551.2" r="0.9"/><circle cx="73.1" cy="551.2" r="0.9"/><circle cx="82.3" cy="551.2" r="0.9"/><circle cx="77.7" cy="554.6" r="0.9"/><circle cx="73.1" cy="554.6" r="0.9"/><circle cx="82.3" cy="554.6" r="0.9"/><circle cx="75.4" cy="557.5" r="0.9"/><circle cx="80.0" cy="557.5" r="0.9"/><circle cx="77.7" cy="560.4" r="0.9"/><circle cx="73.1" cy="560.4" r="0.9"/><circle cx="82.3" cy="560.4" r="0.9"/><circle cx="77.7" cy="563.8" r="0.9"/><circle cx="73.1" cy="563.8" r="0.9"/><circle cx="75.4" cy="566.7" r="0.9"/><circle cx="80.0" cy="566.7" r="0.9"/><circle cx="77.7" cy="566.7" r="0.9"/><circle cx="73.1" cy="569.6" r="0.9"/><circle cx="82.3" cy="569.6" r="0.9"/><circle cx="77.7" cy="572.5" r="0.9"/><circle cx="73.1" cy="572.5" r="0.9"/><circle cx="82.3" cy="572.5" r="0.9"/><circle cx="77.7" cy="576.5" r="0.9"/><circle cx="73.1" cy="576.5" r="0.9"/><circle cx="75.4" cy="579.4" r="0.9"/><circle cx="80.0" cy="579.4" r="0.9"/><circle cx="77.7" cy="579.4" r="0.9"/><circle cx="77.7" cy="582.9" r="0.9"/><circle cx="73.1" cy="582.9" r="0.9"/><circle cx="82.3" cy="582.9" r="0.9"/><circle cx="75.4" cy="586.0" r="0.9"/><circle cx="80.0" cy="586.0" r="0.9"/><circle cx="77.7" cy="586.0" r="0.9"/><circle cx="73.1" cy="589.2" r="0.9"/><circle cx="82.3" cy="589.2" r="0.9"/><circle cx="77.7" cy="589.2" r="0.9"/><circle cx="77.7" cy="592.7" r="0.9"/><circle cx="73.1" cy="592.7" r="0.9"/><circle cx="77.7" cy="596.2" r="0.9"/><circle cx="73.1" cy="596.2" r="0.9"/><circle cx="82.3" cy="596.2" r="0.9"/><circle cx="75.4" cy="599.0" r="0.9"/><circle cx="80.0" cy="599.0" r="0.9"/><circle cx="77.7" cy="601.5" r="0.9"/><circle cx="73.1" cy="601.5" r="0.9"/><circle cx="82.3" cy="601.5" r="0.9"/><circle cx="75.4" cy="603.8" r="0.9"/><circle cx="77.7" cy="614.8" r="0.9"/><circle cx="73.1" cy="614.8" r="0.9"/><circle cx="82.3" cy="617.1" r="0.9"/><circle cx="75.4" cy="617.1" r="0.9"/><circle cx="77.7" cy="617.1" r="0.9"/><circle cx="80.0" cy="620.2" r="0.9"/><circle cx="73.1" cy="620.2" r="0.9"/><circle cx="77.7" cy="620.2" r="0.9"/><circle cx="75.4" cy="622.9" r="0.9"/><circle cx="82.3" cy="622.9" r="0.9"/><circle cx="77.7" cy="622.9" r="0.9"/><circle cx="77.7" cy="626.3" r="0.9"/><circle cx="77.7" cy="630.6" r="0.9"/><circle cx="75.4" cy="633.8" r="0.9"/><circle cx="80.0" cy="633.8" r="0.9"/><circle cx="77.7" cy="633.8" r="0.9"/><circle cx="73.1" cy="636.2" r="0.9"/><circle cx="82.3" cy="636.2" r="0.9"/><circle cx="77.7" cy="638.5" r="0.9"/><circle cx="75.4" cy="638.5" r="0.9"/><circle cx="80.0" cy="638.5" r="0.9"/><circle cx="73.1" cy="640.2" r="0.9"/><circle cx="82.3" cy="640.2" r="0.9"/><circle cx="77.7" cy="643.1" r="0.9"/><circle cx="77.7" cy="647.7" r="0.9"/><circle cx="73.1" cy="647.7" r="0.9"/><circle cx="77.7" cy="652.3" r="0.9"/><circle cx="77.7" cy="659.2" r="0.9"/><circle cx="104.8" cy="534.8" r="0.9"/><circle cx="100.2" cy="534.8" r="0.9"/><circle cx="109.4" cy="534.8" r="0.9"/><circle cx="102.5" cy="537.5" r="0.9"/><circle cx="107.1" cy="537.5" r="0.9"/><circle cx="104.8" cy="537.5" r="0.9"/><circle cx="100.2" cy="540.5" r="0.9"/><circle cx="109.4" cy="540.5" r="0.9"/><circle cx="104.8" cy="540.5" r="0.9"/><circle cx="102.5" cy="543.3" r="0.9"/><circle cx="107.1" cy="543.3" r="0.9"/><circle cx="104.8" cy="543.3" r="0.9"/><circle cx="100.2" cy="546.0" r="0.9"/><circle cx="109.4" cy="546.0" r="0.9"/><circle cx="104.8" cy="546.0" r="0.9"/><circle cx="102.5" cy="548.8" r="0.9"/><circle cx="107.1" cy="548.8" r="0.9"/><circle cx="104.8" cy="548.8" r="0.9"/><circle cx="100.2" cy="551.5" r="0.9"/><circle cx="109.4" cy="551.5" r="0.9"/><circle cx="104.8" cy="551.5" r="0.9"/><circle cx="102.5" cy="554.0" r="0.9"/><circle cx="107.1" cy="554.0" r="0.9"/><circle cx="104.8" cy="554.0" r="0.9"/><circle cx="100.2" cy="556.5" r="0.9"/><circle cx="109.4" cy="556.5" r="0.9"/><circle cx="104.8" cy="556.5" r="0.9"/><circle cx="102.5" cy="558.8" r="0.9"/><circle cx="107.1" cy="558.8" r="0.9"/><circle cx="104.8" cy="558.8" r="0.9"/><circle cx="100.2" cy="560.4" r="0.9"/><circle cx="109.4" cy="560.4" r="0.9"/><circle cx="104.8" cy="560.4" r="0.9"/><circle cx="102.5" cy="562.6" r="0.9"/><circle cx="107.1" cy="562.6" r="0.9"/><circle cx="104.8" cy="562.6" r="0.9"/><circle cx="100.2" cy="565.0" r="0.9"/><circle cx="109.4" cy="565.0" r="0.9"/><circle cx="104.8" cy="565.0" r="0.9"/><circle cx="102.5" cy="567.3" r="0.9"/><circle cx="107.1" cy="567.3" r="0.9"/><circle cx="104.8" cy="567.3" r="0.9"/><circle cx="100.2" cy="569.8" r="0.9"/><circle cx="109.4" cy="569.8" r="0.9"/><circle cx="104.8" cy="569.8" r="0.9"/><circle cx="102.5" cy="572.5" r="0.9"/><circle cx="107.1" cy="572.5" r="0.9"/><circle cx="104.8" cy="575.5" r="0.9"/><circle cx="100.2" cy="575.5" r="0.9"/><circle cx="102.5" cy="578.5" r="0.9"/><circle cx="104.8" cy="582.0" r="0.9"/><circle cx="102.5" cy="585.0" r="0.9"/><circle cx="104.8" cy="595.2" r="0.9"/><circle cx="100.2" cy="595.2" r="0.9"/><circle cx="109.4" cy="597.0" r="0.9"/><circle cx="102.5" cy="597.0" r="0.9"/><circle cx="104.8" cy="598.7" r="0.9"/><circle cx="100.2" cy="598.7" r="0.9"/><circle cx="102.5" cy="601.5" r="0.9"/><circle cx="107.1" cy="601.5" r="0.9"/><circle cx="104.8" cy="601.5" r="0.9"/><circle cx="100.2" cy="601.5" r="0.9"/><circle cx="109.4" cy="604.4" r="0.9"/><circle cx="104.8" cy="604.4" r="0.9"/><circle cx="102.5" cy="607.3" r="0.9"/><circle cx="104.8" cy="611.3" r="0.9"/><circle cx="100.2" cy="613.0" r="0.9"/><circle cx="109.4" cy="613.0" r="0.9"/><circle cx="104.8" cy="616.5" r="0.9"/><circle cx="100.2" cy="616.5" r="0.9"/><circle cx="104.8" cy="620.6" r="0.9"/><circle cx="104.8" cy="626.3" r="0.9"/><circle cx="104.8" cy="635.0" r="0.9"/><circle cx="104.8" cy="638.5" r="0.9"/><circle cx="131.9" cy="534.8" r="0.9"/><circle cx="127.3" cy="534.8" r="0.9"/><circle cx="136.5" cy="534.8" r="0.9"/><circle cx="129.6" cy="536.2" r="0.9"/><circle cx="131.9" cy="540.5" r="0.9"/><circle cx="127.3" cy="540.5" r="0.9"/><circle cx="136.5" cy="540.5" r="0.9"/><circle cx="131.9" cy="544.8" r="0.9"/><circle cx="127.3" cy="544.8" r="0.9"/><circle cx="136.5" cy="544.8" r="0.9"/><circle cx="129.6" cy="544.8" r="0.9"/><circle cx="134.2" cy="546.5" r="0.9"/><circle cx="131.9" cy="546.5" r="0.9"/><circle cx="129.6" cy="546.5" r="0.9"/><circle cx="127.3" cy="548.8" r="0.9"/><circle cx="136.5" cy="548.8" r="0.9"/><circle cx="131.9" cy="548.8" r="0.9"/><circle cx="129.6" cy="548.8" r="0.9"/><circle cx="134.2" cy="550.6" r="0.9"/><circle cx="131.9" cy="550.6" r="0.9"/><circle cx="129.6" cy="550.6" r="0.9"/><circle cx="127.3" cy="550.6" r="0.9"/><circle cx="136.5" cy="552.3" r="0.9"/><circle cx="131.9" cy="552.3" r="0.9"/><circle cx="129.6" cy="552.3" r="0.9"/><circle cx="134.2" cy="554.0" r="0.9"/><circle cx="127.3" cy="554.0" r="0.9"/><circle cx="131.9" cy="554.0" r="0.9"/><circle cx="129.6" cy="556.3" r="0.9"/><circle cx="136.5" cy="556.3" r="0.9"/><circle cx="131.9" cy="558.7" r="0.9"/><circle cx="127.3" cy="560.4" r="0.9"/><circle cx="131.9" cy="562.1" r="0.9"/><circle cx="129.6" cy="565.0" r="0.9"/><circle cx="131.9" cy="567.9" r="0.9"/><circle cx="127.3" cy="570.2" r="0.9"/><circle cx="131.9" cy="578.8" r="0.9"/><circle cx="127.3" cy="578.8" r="0.9"/><circle cx="131.9" cy="583.5" r="0.9"/><circle cx="131.9" cy="587.5" r="0.9"/><circle cx="127.3" cy="587.5" r="0.9"/><circle cx="131.9" cy="633.6" r="0.9"/><circle cx="159.0" cy="534.8" r="0.9"/><circle cx="154.4" cy="534.8" r="0.9"/><circle cx="159.0" cy="538.2" r="0.9"/><circle cx="156.7" cy="541.3" r="0.9"/><circle cx="161.3" cy="542.5" r="0.9"/><circle cx="154.4" cy="542.5" r="0.9"/><circle cx="159.0" cy="544.8" r="0.9"/><circle cx="163.6" cy="544.8" r="0.9"/><circle cx="156.7" cy="544.8" r="0.9"/><circle cx="161.3" cy="547.1" r="0.9"/><circle cx="156.7" cy="548.3" r="0.9"/><circle cx="163.6" cy="548.3" r="0.9"/><circle cx="159.0" cy="548.3" r="0.9"/><circle cx="161.3" cy="550.2" r="0.9"/><circle cx="154.4" cy="550.2" r="0.9"/><circle cx="159.0" cy="552.3" r="0.9"/><circle cx="154.4" cy="554.6" r="0.9"/><circle cx="163.6" cy="554.6" r="0.9"/><circle cx="159.0" cy="555.8" r="0.9"/><circle cx="159.0" cy="560.6" r="0.9"/><circle cx="159.0" cy="569.6" r="0.9"/><circle cx="159.0" cy="582.3" r="0.9"/><circle cx="154.4" cy="582.3" r="0.9"/><circle cx="159.0" cy="595.6" r="0.9"/><circle cx="191.5" cy="534.8" r="0.9"/><circle cx="186.9" cy="536.7" r="0.9"/><circle cx="196.1" cy="536.7" r="0.9"/><circle cx="191.5" cy="540.2" r="0.9"/><circle cx="186.9" cy="541.9" r="0.9"/><circle cx="191.5" cy="547.5" r="0.9"/><circle cx="186.9" cy="548.8" r="0.9"/><circle cx="193.8" cy="550.2" r="0.9"/><circle cx="189.2" cy="551.7" r="0.9"/><circle cx="191.5" cy="554.6" r="0.9"/><circle cx="186.9" cy="555.8" r="0.9"/><circle cx="196.1" cy="555.8" r="0.9"/><circle cx="191.5" cy="560.4" r="0.9"/><circle cx="186.9" cy="560.4" r="0.9"/><circle cx="191.5" cy="563.8" r="0.9"/><circle cx="186.9" cy="565.2" r="0.9"/><circle cx="196.1" cy="565.2" r="0.9"/><circle cx="191.5" cy="567.5" r="0.9"/><circle cx="189.2" cy="570.8" r="0.9"/><circle cx="191.5" cy="573.7" r="0.9"/><circle cx="191.5" cy="578.3" r="0.9"/><circle cx="186.9" cy="580.6" r="0.9"/><circle cx="191.5" cy="582.3" r="0.9"/><circle cx="196.1" cy="582.3" r="0.9"/><circle cx="189.2" cy="582.3" r="0.9"/><circle cx="193.8" cy="584.0" r="0.9"/><circle cx="186.9" cy="584.0" r="0.9"/><circle cx="191.5" cy="588.1" r="0.9"/><circle cx="191.5" cy="591.5" r="0.9"/><circle cx="186.9" cy="591.5" r="0.9"/><circle cx="196.1" cy="593.3" r="0.9"/><circle cx="191.5" cy="599.6" r="0.9"/><circle cx="191.5" cy="605.2" r="0.9"/><circle cx="191.5" cy="621.9" r="0.9"/><circle cx="191.5" cy="625.4" r="0.9"/><circle cx="191.5" cy="636.3" r="0.9"/><circle cx="186.9" cy="636.3" r="0.9"/><circle cx="191.5" cy="659.1" r="0.9"/><circle cx="218.6" cy="534.6" r="0.9"/><circle cx="214.0" cy="534.6" r="0.9"/><circle cx="223.2" cy="534.6" r="0.9"/><circle cx="216.3" cy="537.3" r="0.9"/><circle cx="220.9" cy="537.3" r="0.9"/><circle cx="218.6" cy="537.3" r="0.9"/><circle cx="214.0" cy="537.3" r="0.9"/><circle cx="218.6" cy="544.0" r="0.9"/><circle cx="218.6" cy="548.3" r="0.9"/><circle cx="218.6" cy="553.5" r="0.9"/><circle cx="214.0" cy="553.5" r="0.9"/><circle cx="223.2" cy="553.5" r="0.9"/><circle cx="218.6" cy="556.9" r="0.9"/><circle cx="214.0" cy="556.9" r="0.9"/><circle cx="218.6" cy="560.4" r="0.9"/><circle cx="214.0" cy="562.1" r="0.9"/><circle cx="218.6" cy="565.6" r="0.9"/><circle cx="214.0" cy="567.3" r="0.9"/><circle cx="218.6" cy="571.3" r="0.9"/><circle cx="214.0" cy="571.3" r="0.9"/><circle cx="223.2" cy="573.1" r="0.9"/><circle cx="218.6" cy="582.9" r="0.9"/><circle cx="218.6" cy="593.8" r="0.9"/><circle cx="218.6" cy="599.6" r="0.9"/><circle cx="214.0" cy="600.0" r="0.9"/><circle cx="218.6" cy="609.5" r="0.9"/><circle cx="214.0" cy="611.8" r="0.9"/><circle cx="218.6" cy="637.8" r="0.9"/><circle cx="245.7" cy="534.8" r="0.9"/><circle cx="241.1" cy="534.8" r="0.9"/><circle cx="250.3" cy="534.8" r="0.9"/><circle cx="245.7" cy="541.3" r="0.9"/><circle cx="241.1" cy="541.3" r="0.9"/><circle cx="250.3" cy="543.1" r="0.9"/><circle cx="245.7" cy="552.3" r="0.9"/><circle cx="241.1" cy="552.9" r="0.9"/><circle cx="250.3" cy="552.9" r="0.9"/><circle cx="245.7" cy="558.7" r="0.9"/><circle cx="245.7" cy="563.8" r="0.9"/><circle cx="241.1" cy="563.8" r="0.9"/><circle cx="245.7" cy="567.3" r="0.9"/><circle cx="241.1" cy="568.5" r="0.9"/><circle cx="250.3" cy="569.6" r="0.9"/><circle cx="245.7" cy="576.5" r="0.9"/><circle cx="245.7" cy="581.2" r="0.9"/><circle cx="245.7" cy="596.5" r="0.9"/><circle cx="241.1" cy="596.7" r="0.9"/><circle cx="245.7" cy="637.8" r="0.9"/><circle cx="272.8" cy="535.0" r="0.9"/><circle cx="272.8" cy="539.0" r="0.9"/><circle cx="272.8" cy="543.1" r="0.9"/><circle cx="272.8" cy="548.8" r="0.9"/><circle cx="268.2" cy="550.6" r="0.9"/><circle cx="272.8" cy="554.6" r="0.9"/><circle cx="268.2" cy="555.8" r="0.9"/><circle cx="272.8" cy="561.5" r="0.9"/><circle cx="268.2" cy="562.5" r="0.9"/><circle cx="272.8" cy="570.2" r="0.9"/><circle cx="272.8" cy="585.8" r="0.9"/><circle cx="305.3" cy="573.8" r="0.9"/><circle cx="305.3" cy="588.6" r="0.9"/><circle cx="305.3" cy="601.5" r="0.9"/><circle cx="300.7" cy="601.5" r="0.9"/><circle cx="305.3" cy="635.2" r="0.9"/><circle cx="332.4" cy="541.0" r="0.9"/><circle cx="332.4" cy="604.8" r="0.9"/><circle cx="332.4" cy="637.9" r="0.9"/><circle cx="332.4" cy="643.8" r="0.9"/><circle cx="359.5" cy="542.3" r="0.9"/><circle cx="359.5" cy="560.3" r="0.9"/><circle cx="359.5" cy="582.7" r="0.9"/><circle cx="359.5" cy="629.0" r="0.9"/><circle cx="359.5" cy="635.7" r="0.9"/><circle cx="386.6" cy="538.3" r="0.9"/><circle cx="386.6" cy="544.2" r="0.9"/><circle cx="419.1" cy="553.0" r="0.9"/><circle cx="419.1" cy="558.8" r="0.9"/><circle cx="419.1" cy="563.5" r="0.9"/><circle cx="419.1" cy="568.7" r="0.9"/><circle cx="419.1" cy="572.6" r="0.9"/><circle cx="419.1" cy="581.0" r="0.9"/><circle cx="419.1" cy="598.7" r="0.9"/><circle cx="416.8" cy="601.3" r="0.9"/><circle cx="419.1" cy="605.2" r="0.9"/><circle cx="419.1" cy="610.0" r="0.9"/><circle cx="416.8" cy="613.0" r="0.9"/><circle cx="419.1" cy="615.7" r="0.9"/><circle cx="414.5" cy="617.0" r="0.9"/><circle cx="421.4" cy="618.3" r="0.9"/><circle cx="419.1" cy="620.9" r="0.9"/><circle cx="414.5" cy="622.0" r="0.9"/><circle cx="419.1" cy="624.8" r="0.9"/><circle cx="414.5" cy="626.1" r="0.9"/><circle cx="423.7" cy="626.1" r="0.9"/><circle cx="419.1" cy="627.5" r="0.9"/><circle cx="414.5" cy="628.7" r="0.9"/><circle cx="423.7" cy="628.7" r="0.9"/><circle cx="416.8" cy="630.0" r="0.9"/><circle cx="421.4" cy="631.3" r="0.9"/><circle cx="414.5" cy="631.3" r="0.9"/><circle cx="419.1" cy="633.9" r="0.9"/><circle cx="423.7" cy="633.9" r="0.9"/><circle cx="414.5" cy="635.0" r="0.9"/><circle cx="421.4" cy="636.5" r="0.9"/><circle cx="416.8" cy="636.5" r="0.9"/><circle cx="419.1" cy="639.1" r="0.9"/><circle cx="414.5" cy="641.0" r="0.9"/><circle cx="419.1" cy="643.0" r="0.9"/><circle cx="414.5" cy="645.0" r="0.9"/><circle cx="419.1" cy="647.0" r="0.9"/><circle cx="419.1" cy="660.0" r="0.9"/><circle cx="446.2" cy="534.8" r="0.9"/><circle cx="441.6" cy="534.8" r="0.9"/><circle cx="450.8" cy="534.8" r="0.9"/><circle cx="443.9" cy="537.4" r="0.9"/><circle cx="448.5" cy="537.4" r="0.9"/><circle cx="446.2" cy="542.6" r="0.9"/><circle cx="446.2" cy="551.7" r="0.9"/><circle cx="446.2" cy="558.8" r="0.9"/><circle cx="446.2" cy="566.9" r="0.9"/><circle cx="446.2" cy="573.9" r="0.9"/><circle cx="446.2" cy="579.9" r="0.9"/><circle cx="446.2" cy="585.7" r="0.9"/><circle cx="446.2" cy="589.6" r="0.9"/><circle cx="446.2" cy="593.5" r="0.9"/><circle cx="441.6" cy="595.0" r="0.9"/><circle cx="446.2" cy="597.4" r="0.9"/><circle cx="450.8" cy="597.4" r="0.9"/><circle cx="441.6" cy="597.4" r="0.9"/><circle cx="443.9" cy="599.0" r="0.9"/><circle cx="448.5" cy="601.3" r="0.9"/><circle cx="441.6" cy="601.3" r="0.9"/><circle cx="446.2" cy="603.0" r="0.9"/><circle cx="441.6" cy="605.2" r="0.9"/><circle cx="450.8" cy="605.2" r="0.9"/><circle cx="446.2" cy="608.6" r="0.9"/><circle cx="441.6" cy="608.6" r="0.9"/><circle cx="450.8" cy="610.0" r="0.9"/><circle cx="446.2" cy="613.8" r="0.9"/><circle cx="446.2" cy="624.8" r="0.9"/><circle cx="443.9" cy="627.9" r="0.9"/><circle cx="446.2" cy="633.1" r="0.9"/><circle cx="441.6" cy="633.1" r="0.9"/><circle cx="446.2" cy="638.4" r="0.9"/><circle cx="441.6" cy="638.4" r="0.9"/><circle cx="473.3" cy="537.4" r="0.9"/><circle cx="473.3" cy="544.4" r="0.9"/><circle cx="473.3" cy="560.9" r="0.9"/><circle cx="468.7" cy="562.2" r="0.9"/><circle cx="473.3" cy="568.7" r="0.9"/><circle cx="473.3" cy="573.9" r="0.9"/><circle cx="468.7" cy="575.0" r="0.9"/><circle cx="473.3" cy="578.4" r="0.9"/><circle cx="468.7" cy="580.0" r="0.9"/><circle cx="473.3" cy="583.6" r="0.9"/><circle cx="468.7" cy="583.6" r="0.9"/><circle cx="471.0" cy="586.0" r="0.9"/><circle cx="475.6" cy="588.3" r="0.9"/><circle cx="468.7" cy="588.3" r="0.9"/><circle cx="473.3" cy="591.0" r="0.9"/><circle cx="468.7" cy="593.0" r="0.9"/><circle cx="473.3" cy="596.6" r="0.9"/><circle cx="473.3" cy="602.6" r="0.9"/><circle cx="473.3" cy="628.7" r="0.9"/><circle cx="473.3" cy="632.6" r="0.9"/><circle cx="473.3" cy="649.6" r="0.9"/><circle cx="471.0" cy="652.2" r="0.9"/><circle cx="500.4" cy="534.8" r="0.9"/><circle cx="500.4" cy="546.5" r="0.9"/><circle cx="500.4" cy="552.3" r="0.9"/><circle cx="495.8" cy="552.3" r="0.9"/><circle cx="500.4" cy="556.4" r="0.9"/><circle cx="495.8" cy="556.4" r="0.9"/><circle cx="505.0" cy="558.0" r="0.9"/><circle cx="500.4" cy="560.9" r="0.9"/><circle cx="495.8" cy="562.0" r="0.9"/><circle cx="502.7" cy="564.0" r="0.9"/><circle cx="498.1" cy="566.1" r="0.9"/><circle cx="505.0" cy="566.1" r="0.9"/><circle cx="500.4" cy="570.0" r="0.9"/><circle cx="500.4" cy="576.5" r="0.9"/><circle cx="500.4" cy="584.4" r="0.9"/><circle cx="500.4" cy="588.3" r="0.9"/><circle cx="495.8" cy="590.0" r="0.9"/><circle cx="500.4" cy="593.5" r="0.9"/><circle cx="500.4" cy="601.3" r="0.9"/><circle cx="500.4" cy="624.8" r="0.9"/></g>
<line x1="71.1" y1="579.4" x2="84.3" y2="579.4" stroke="#b0223e" stroke-width="1.6"/>
<line x1="98.2" y1="560.4" x2="111.4" y2="560.4" stroke="#b0223e" stroke-width="1.6"/>
<line x1="125.3" y1="548.8" x2="138.5" y2="548.8" stroke="#b0223e" stroke-width="1.6"/>
<line x1="152.4" y1="547.1" x2="165.6" y2="547.1" stroke="#b0223e" stroke-width="1.6"/>
<line x1="184.9" y1="573.7" x2="198.1" y2="573.7" stroke="#b0223e" stroke-width="1.6"/>
<line x1="212.0" y1="554.0" x2="225.2" y2="554.0" stroke="#b0223e" stroke-width="1.6"/>
<line x1="239.1" y1="558.7" x2="252.3" y2="558.7" stroke="#b0223e" stroke-width="1.6"/>
<line x1="266.2" y1="554.6" x2="279.4" y2="554.6" stroke="#b0223e" stroke-width="1.6"/>
<line x1="298.7" y1="601.5" x2="311.9" y2="601.5" stroke="#b0223e" stroke-width="1.6"/>
<line x1="325.8" y1="611.0" x2="339.0" y2="611.0" stroke="#b0223e" stroke-width="1.6"/>
<line x1="352.9" y1="582.7" x2="366.1" y2="582.7" stroke="#b0223e" stroke-width="1.6"/>
<line x1="380.0" y1="541.0" x2="393.2" y2="541.0" stroke="#b0223e" stroke-width="1.6"/>
<line x1="412.5" y1="626.1" x2="425.7" y2="626.1" stroke="#b0223e" stroke-width="1.6"/>
<line x1="439.6" y1="597.4" x2="452.8" y2="597.4" stroke="#b0223e" stroke-width="1.6"/>
<line x1="466.7" y1="583.6" x2="479.9" y2="583.6" stroke="#b0223e" stroke-width="1.6"/>
<line x1="493.8" y1="566.1" x2="507.0" y2="566.1" stroke="#b0223e" stroke-width="1.6"/>
<line x1="62" y1="517.5" x2="62" y2="682.10" stroke="#333" stroke-width="1.6"/>
<line x1="61.2" y1="681.30" x2="519" y2="681.30" stroke="#333" stroke-width="1.6"/>
<line x1="58.8" y1="521.00" x2="62" y2="521.00" stroke="#333" stroke-width="1"/>
<text x="55.00" y="523.99" font-size="8.3" text-anchor="end" font-weight="normal" fill="#151515">100000</text>
<line x1="58.8" y1="543.90" x2="62" y2="543.90" stroke="#333" stroke-width="1"/>
<text x="55.00" y="546.89" font-size="8.3" text-anchor="end" font-weight="normal" fill="#151515">10000</text>
<line x1="58.8" y1="566.80" x2="62" y2="566.80" stroke="#333" stroke-width="1"/>
<text x="55.00" y="569.79" font-size="8.3" text-anchor="end" font-weight="normal" fill="#151515">1000</text>
<line x1="58.8" y1="589.70" x2="62" y2="589.70" stroke="#333" stroke-width="1"/>
<text x="55.00" y="592.69" font-size="8.3" text-anchor="end" font-weight="normal" fill="#151515">100</text>
<line x1="58.8" y1="612.60" x2="62" y2="612.60" stroke="#333" stroke-width="1"/>
<text x="55.00" y="615.59" font-size="8.3" text-anchor="end" font-weight="normal" fill="#151515">10</text>
<line x1="58.8" y1="635.50" x2="62" y2="635.50" stroke="#333" stroke-width="1"/>
<text x="55.00" y="638.49" font-size="8.3" text-anchor="end" font-weight="normal" fill="#151515">1</text>
<line x1="58.8" y1="658.40" x2="62" y2="658.40" stroke="#333" stroke-width="1"/>
<text x="55.00" y="661.39" font-size="8.3" text-anchor="end" font-weight="normal" fill="#151515">0.1</text>
<line x1="58.8" y1="681.30" x2="62" y2="681.30" stroke="#333" stroke-width="1"/>
<text x="55.00" y="684.29" font-size="8.3" text-anchor="end" font-weight="normal" fill="#151515">0.01</text>
<line x1="77.70" y1="681.30" x2="77.70" y2="684.50" stroke="#333" stroke-width="1"/>
<line x1="104.80" y1="681.30" x2="104.80" y2="684.50" stroke="#333" stroke-width="1"/>
<line x1="131.90" y1="681.30" x2="131.90" y2="684.50" stroke="#333" stroke-width="1"/>
<line x1="159.00" y1="681.30" x2="159.00" y2="684.50" stroke="#333" stroke-width="1"/>
<line x1="191.50" y1="681.30" x2="191.50" y2="684.50" stroke="#333" stroke-width="1"/>
<line x1="218.60" y1="681.30" x2="218.60" y2="684.50" stroke="#333" stroke-width="1"/>
<line x1="245.70" y1="681.30" x2="245.70" y2="684.50" stroke="#333" stroke-width="1"/>
<line x1="272.80" y1="681.30" x2="272.80" y2="684.50" stroke="#333" stroke-width="1"/>
<line x1="305.30" y1="681.30" x2="305.30" y2="684.50" stroke="#333" stroke-width="1"/>
<line x1="332.40" y1="681.30" x2="332.40" y2="684.50" stroke="#333" stroke-width="1"/>
<line x1="359.50" y1="681.30" x2="359.50" y2="684.50" stroke="#333" stroke-width="1"/>
<line x1="386.60" y1="681.30" x2="386.60" y2="684.50" stroke="#333" stroke-width="1"/>
<line x1="419.10" y1="681.30" x2="419.10" y2="684.50" stroke="#333" stroke-width="1"/>
<line x1="446.20" y1="681.30" x2="446.20" y2="684.50" stroke="#333" stroke-width="1"/>
<line x1="473.30" y1="681.30" x2="473.30" y2="684.50" stroke="#333" stroke-width="1"/>
<line x1="500.40" y1="681.30" x2="500.40" y2="684.50" stroke="#333" stroke-width="1"/>
<text x="77.70" y="695.50" font-size="9.5" text-anchor="middle" font-weight="normal" fill="#151515">D2</text>
<text x="104.80" y="695.50" font-size="9.5" text-anchor="middle" font-weight="normal" fill="#151515">D3</text>
<text x="131.90" y="695.50" font-size="9.5" text-anchor="middle" font-weight="normal" fill="#151515">D4</text>
<text x="159.00" y="695.50" font-size="9.5" text-anchor="middle" font-weight="normal" fill="#151515">D5</text>
<text x="191.50" y="695.50" font-size="9.5" text-anchor="middle" font-weight="normal" fill="#151515">D2</text>
<text x="218.60" y="695.50" font-size="9.5" text-anchor="middle" font-weight="normal" fill="#151515">D3</text>
<text x="245.70" y="695.50" font-size="9.5" text-anchor="middle" font-weight="normal" fill="#151515">D4</text>
<text x="272.80" y="695.50" font-size="9.5" text-anchor="middle" font-weight="normal" fill="#151515">D5</text>
<text x="305.30" y="695.50" font-size="9.5" text-anchor="middle" font-weight="normal" fill="#151515">D2</text>
<text x="332.40" y="695.50" font-size="9.5" text-anchor="middle" font-weight="normal" fill="#151515">D3</text>
<text x="359.50" y="695.50" font-size="9.5" text-anchor="middle" font-weight="normal" fill="#151515">D4</text>
<text x="386.60" y="695.50" font-size="9.5" text-anchor="middle" font-weight="normal" fill="#151515">D5</text>
<text x="419.10" y="695.50" font-size="9.5" text-anchor="middle" font-weight="normal" fill="#151515">D2</text>
<text x="446.20" y="695.50" font-size="9.5" text-anchor="middle" font-weight="normal" fill="#151515">D3</text>
<text x="473.30" y="695.50" font-size="9.5" text-anchor="middle" font-weight="normal" fill="#151515">D4</text>
<text x="500.40" y="695.50" font-size="9.5" text-anchor="middle" font-weight="normal" fill="#151515">D5</text>
<path d="M77.70,699.6 V703.3 H159.10 V699.6" fill="none" stroke="#333" stroke-width="0.9"/>
<path d="M191.50,699.6 V703.3 H272.90 V699.6" fill="none" stroke="#333" stroke-width="0.9"/>
<path d="M305.30,699.6 V703.3 H386.70 V699.6" fill="none" stroke="#333" stroke-width="0.9"/>
<path d="M419.10,699.6 V703.3 H500.50 V699.6" fill="none" stroke="#333" stroke-width="0.9"/>
<text x="118.40" y="715.80" font-size="8.8" text-anchor="middle" font-weight="normal" fill="#151515" textLength="62" lengthAdjust="spacingAndGlyphs">Treatment naïve</text>
<text x="232.30" y="715.10" font-size="8.8" text-anchor="middle" font-weight="normal" fill="#151515" textLength="54" lengthAdjust="spacingAndGlyphs">Off-therapy in</text>
<text x="232.00" y="724.60" font-size="8.8" text-anchor="middle" font-weight="normal" fill="#151515" textLength="36.4" lengthAdjust="spacingAndGlyphs">remission</text>
<text x="345.80" y="715.10" font-size="8.8" text-anchor="middle" font-weight="normal" fill="#151515" textLength="54" lengthAdjust="spacingAndGlyphs">Off-therapy in</text>
<text x="345.80" y="724.60" font-size="8.8" text-anchor="middle" font-weight="normal" fill="#151515" textLength="27.5" lengthAdjust="spacingAndGlyphs">relapse</text>
<text x="459.50" y="715.80" font-size="8.8" text-anchor="middle" font-weight="normal" fill="#151515" textLength="43.6" lengthAdjust="spacingAndGlyphs">On-therapy</text>
</svg></body></html>
